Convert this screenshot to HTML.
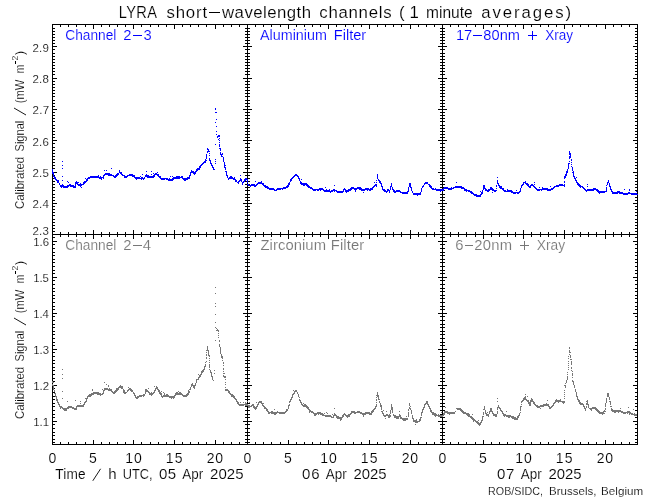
<!DOCTYPE html>
<html><head><meta charset="utf-8"><style>
html,body{margin:0;padding:0;background:#fff;overflow:hidden;}
svg{display:block;will-change:transform;}
text{font-family:"Liberation Sans",sans-serif;stroke:#fff;stroke-width:0.15px;}
</style></head><body>
<svg width="650" height="500" viewBox="0 0 650 500" shape-rendering="crispEdges">
<rect width="650" height="500" fill="#fff"/>
<rect x="52" y="24" width="586" height="1" fill="#000"/>
<rect x="52" y="234" width="586" height="1" fill="#000"/>
<rect x="52" y="444" width="586" height="1" fill="#000"/>
<rect x="52" y="24" width="1" height="421" fill="#000"/>
<rect x="247" y="24" width="1" height="421" fill="#000"/>
<rect x="442" y="24" width="1" height="421" fill="#000"/>
<rect x="637" y="24" width="1" height="421" fill="#000"/>
<rect x="60" y="24" width="1" height="3" fill="#000"/>
<rect x="60" y="232" width="1" height="3" fill="#000"/>
<rect x="60" y="234" width="1" height="3" fill="#000"/>
<rect x="60" y="442" width="1" height="3" fill="#000"/>
<rect x="68" y="24" width="1" height="3" fill="#000"/>
<rect x="68" y="232" width="1" height="3" fill="#000"/>
<rect x="68" y="234" width="1" height="3" fill="#000"/>
<rect x="68" y="442" width="1" height="3" fill="#000"/>
<rect x="76" y="24" width="1" height="3" fill="#000"/>
<rect x="76" y="232" width="1" height="3" fill="#000"/>
<rect x="76" y="234" width="1" height="3" fill="#000"/>
<rect x="76" y="442" width="1" height="3" fill="#000"/>
<rect x="85" y="24" width="1" height="3" fill="#000"/>
<rect x="85" y="232" width="1" height="3" fill="#000"/>
<rect x="85" y="234" width="1" height="3" fill="#000"/>
<rect x="85" y="442" width="1" height="3" fill="#000"/>
<rect x="93" y="24" width="1" height="5" fill="#000"/>
<rect x="93" y="230" width="1" height="5" fill="#000"/>
<rect x="93" y="234" width="1" height="5" fill="#000"/>
<rect x="93" y="440" width="1" height="5" fill="#000"/>
<rect x="101" y="24" width="1" height="3" fill="#000"/>
<rect x="101" y="232" width="1" height="3" fill="#000"/>
<rect x="101" y="234" width="1" height="3" fill="#000"/>
<rect x="101" y="442" width="1" height="3" fill="#000"/>
<rect x="109" y="24" width="1" height="3" fill="#000"/>
<rect x="109" y="232" width="1" height="3" fill="#000"/>
<rect x="109" y="234" width="1" height="3" fill="#000"/>
<rect x="109" y="442" width="1" height="3" fill="#000"/>
<rect x="117" y="24" width="1" height="3" fill="#000"/>
<rect x="117" y="232" width="1" height="3" fill="#000"/>
<rect x="117" y="234" width="1" height="3" fill="#000"/>
<rect x="117" y="442" width="1" height="3" fill="#000"/>
<rect x="125" y="24" width="1" height="3" fill="#000"/>
<rect x="125" y="232" width="1" height="3" fill="#000"/>
<rect x="125" y="234" width="1" height="3" fill="#000"/>
<rect x="125" y="442" width="1" height="3" fill="#000"/>
<rect x="133" y="24" width="1" height="5" fill="#000"/>
<rect x="133" y="230" width="1" height="5" fill="#000"/>
<rect x="133" y="234" width="1" height="5" fill="#000"/>
<rect x="133" y="440" width="1" height="5" fill="#000"/>
<rect x="141" y="24" width="1" height="3" fill="#000"/>
<rect x="141" y="232" width="1" height="3" fill="#000"/>
<rect x="141" y="234" width="1" height="3" fill="#000"/>
<rect x="141" y="442" width="1" height="3" fill="#000"/>
<rect x="150" y="24" width="1" height="3" fill="#000"/>
<rect x="150" y="232" width="1" height="3" fill="#000"/>
<rect x="150" y="234" width="1" height="3" fill="#000"/>
<rect x="150" y="442" width="1" height="3" fill="#000"/>
<rect x="158" y="24" width="1" height="3" fill="#000"/>
<rect x="158" y="232" width="1" height="3" fill="#000"/>
<rect x="158" y="234" width="1" height="3" fill="#000"/>
<rect x="158" y="442" width="1" height="3" fill="#000"/>
<rect x="166" y="24" width="1" height="3" fill="#000"/>
<rect x="166" y="232" width="1" height="3" fill="#000"/>
<rect x="166" y="234" width="1" height="3" fill="#000"/>
<rect x="166" y="442" width="1" height="3" fill="#000"/>
<rect x="174" y="24" width="1" height="5" fill="#000"/>
<rect x="174" y="230" width="1" height="5" fill="#000"/>
<rect x="174" y="234" width="1" height="5" fill="#000"/>
<rect x="174" y="440" width="1" height="5" fill="#000"/>
<rect x="182" y="24" width="1" height="3" fill="#000"/>
<rect x="182" y="232" width="1" height="3" fill="#000"/>
<rect x="182" y="234" width="1" height="3" fill="#000"/>
<rect x="182" y="442" width="1" height="3" fill="#000"/>
<rect x="190" y="24" width="1" height="3" fill="#000"/>
<rect x="190" y="232" width="1" height="3" fill="#000"/>
<rect x="190" y="234" width="1" height="3" fill="#000"/>
<rect x="190" y="442" width="1" height="3" fill="#000"/>
<rect x="198" y="24" width="1" height="3" fill="#000"/>
<rect x="198" y="232" width="1" height="3" fill="#000"/>
<rect x="198" y="234" width="1" height="3" fill="#000"/>
<rect x="198" y="442" width="1" height="3" fill="#000"/>
<rect x="206" y="24" width="1" height="3" fill="#000"/>
<rect x="206" y="232" width="1" height="3" fill="#000"/>
<rect x="206" y="234" width="1" height="3" fill="#000"/>
<rect x="206" y="442" width="1" height="3" fill="#000"/>
<rect x="215" y="24" width="1" height="5" fill="#000"/>
<rect x="215" y="230" width="1" height="5" fill="#000"/>
<rect x="215" y="234" width="1" height="5" fill="#000"/>
<rect x="215" y="440" width="1" height="5" fill="#000"/>
<rect x="223" y="24" width="1" height="3" fill="#000"/>
<rect x="223" y="232" width="1" height="3" fill="#000"/>
<rect x="223" y="234" width="1" height="3" fill="#000"/>
<rect x="223" y="442" width="1" height="3" fill="#000"/>
<rect x="231" y="24" width="1" height="3" fill="#000"/>
<rect x="231" y="232" width="1" height="3" fill="#000"/>
<rect x="231" y="234" width="1" height="3" fill="#000"/>
<rect x="231" y="442" width="1" height="3" fill="#000"/>
<rect x="239" y="24" width="1" height="3" fill="#000"/>
<rect x="239" y="232" width="1" height="3" fill="#000"/>
<rect x="239" y="234" width="1" height="3" fill="#000"/>
<rect x="239" y="442" width="1" height="3" fill="#000"/>
<rect x="255" y="24" width="1" height="3" fill="#000"/>
<rect x="255" y="232" width="1" height="3" fill="#000"/>
<rect x="255" y="234" width="1" height="3" fill="#000"/>
<rect x="255" y="442" width="1" height="3" fill="#000"/>
<rect x="263" y="24" width="1" height="3" fill="#000"/>
<rect x="263" y="232" width="1" height="3" fill="#000"/>
<rect x="263" y="234" width="1" height="3" fill="#000"/>
<rect x="263" y="442" width="1" height="3" fill="#000"/>
<rect x="271" y="24" width="1" height="3" fill="#000"/>
<rect x="271" y="232" width="1" height="3" fill="#000"/>
<rect x="271" y="234" width="1" height="3" fill="#000"/>
<rect x="271" y="442" width="1" height="3" fill="#000"/>
<rect x="280" y="24" width="1" height="3" fill="#000"/>
<rect x="280" y="232" width="1" height="3" fill="#000"/>
<rect x="280" y="234" width="1" height="3" fill="#000"/>
<rect x="280" y="442" width="1" height="3" fill="#000"/>
<rect x="288" y="24" width="1" height="5" fill="#000"/>
<rect x="288" y="230" width="1" height="5" fill="#000"/>
<rect x="288" y="234" width="1" height="5" fill="#000"/>
<rect x="288" y="440" width="1" height="5" fill="#000"/>
<rect x="296" y="24" width="1" height="3" fill="#000"/>
<rect x="296" y="232" width="1" height="3" fill="#000"/>
<rect x="296" y="234" width="1" height="3" fill="#000"/>
<rect x="296" y="442" width="1" height="3" fill="#000"/>
<rect x="304" y="24" width="1" height="3" fill="#000"/>
<rect x="304" y="232" width="1" height="3" fill="#000"/>
<rect x="304" y="234" width="1" height="3" fill="#000"/>
<rect x="304" y="442" width="1" height="3" fill="#000"/>
<rect x="312" y="24" width="1" height="3" fill="#000"/>
<rect x="312" y="232" width="1" height="3" fill="#000"/>
<rect x="312" y="234" width="1" height="3" fill="#000"/>
<rect x="312" y="442" width="1" height="3" fill="#000"/>
<rect x="320" y="24" width="1" height="3" fill="#000"/>
<rect x="320" y="232" width="1" height="3" fill="#000"/>
<rect x="320" y="234" width="1" height="3" fill="#000"/>
<rect x="320" y="442" width="1" height="3" fill="#000"/>
<rect x="328" y="24" width="1" height="5" fill="#000"/>
<rect x="328" y="230" width="1" height="5" fill="#000"/>
<rect x="328" y="234" width="1" height="5" fill="#000"/>
<rect x="328" y="440" width="1" height="5" fill="#000"/>
<rect x="336" y="24" width="1" height="3" fill="#000"/>
<rect x="336" y="232" width="1" height="3" fill="#000"/>
<rect x="336" y="234" width="1" height="3" fill="#000"/>
<rect x="336" y="442" width="1" height="3" fill="#000"/>
<rect x="345" y="24" width="1" height="3" fill="#000"/>
<rect x="345" y="232" width="1" height="3" fill="#000"/>
<rect x="345" y="234" width="1" height="3" fill="#000"/>
<rect x="345" y="442" width="1" height="3" fill="#000"/>
<rect x="353" y="24" width="1" height="3" fill="#000"/>
<rect x="353" y="232" width="1" height="3" fill="#000"/>
<rect x="353" y="234" width="1" height="3" fill="#000"/>
<rect x="353" y="442" width="1" height="3" fill="#000"/>
<rect x="361" y="24" width="1" height="3" fill="#000"/>
<rect x="361" y="232" width="1" height="3" fill="#000"/>
<rect x="361" y="234" width="1" height="3" fill="#000"/>
<rect x="361" y="442" width="1" height="3" fill="#000"/>
<rect x="369" y="24" width="1" height="5" fill="#000"/>
<rect x="369" y="230" width="1" height="5" fill="#000"/>
<rect x="369" y="234" width="1" height="5" fill="#000"/>
<rect x="369" y="440" width="1" height="5" fill="#000"/>
<rect x="377" y="24" width="1" height="3" fill="#000"/>
<rect x="377" y="232" width="1" height="3" fill="#000"/>
<rect x="377" y="234" width="1" height="3" fill="#000"/>
<rect x="377" y="442" width="1" height="3" fill="#000"/>
<rect x="385" y="24" width="1" height="3" fill="#000"/>
<rect x="385" y="232" width="1" height="3" fill="#000"/>
<rect x="385" y="234" width="1" height="3" fill="#000"/>
<rect x="385" y="442" width="1" height="3" fill="#000"/>
<rect x="393" y="24" width="1" height="3" fill="#000"/>
<rect x="393" y="232" width="1" height="3" fill="#000"/>
<rect x="393" y="234" width="1" height="3" fill="#000"/>
<rect x="393" y="442" width="1" height="3" fill="#000"/>
<rect x="401" y="24" width="1" height="3" fill="#000"/>
<rect x="401" y="232" width="1" height="3" fill="#000"/>
<rect x="401" y="234" width="1" height="3" fill="#000"/>
<rect x="401" y="442" width="1" height="3" fill="#000"/>
<rect x="410" y="24" width="1" height="5" fill="#000"/>
<rect x="410" y="230" width="1" height="5" fill="#000"/>
<rect x="410" y="234" width="1" height="5" fill="#000"/>
<rect x="410" y="440" width="1" height="5" fill="#000"/>
<rect x="418" y="24" width="1" height="3" fill="#000"/>
<rect x="418" y="232" width="1" height="3" fill="#000"/>
<rect x="418" y="234" width="1" height="3" fill="#000"/>
<rect x="418" y="442" width="1" height="3" fill="#000"/>
<rect x="426" y="24" width="1" height="3" fill="#000"/>
<rect x="426" y="232" width="1" height="3" fill="#000"/>
<rect x="426" y="234" width="1" height="3" fill="#000"/>
<rect x="426" y="442" width="1" height="3" fill="#000"/>
<rect x="434" y="24" width="1" height="3" fill="#000"/>
<rect x="434" y="232" width="1" height="3" fill="#000"/>
<rect x="434" y="234" width="1" height="3" fill="#000"/>
<rect x="434" y="442" width="1" height="3" fill="#000"/>
<rect x="450" y="24" width="1" height="3" fill="#000"/>
<rect x="450" y="232" width="1" height="3" fill="#000"/>
<rect x="450" y="234" width="1" height="3" fill="#000"/>
<rect x="450" y="442" width="1" height="3" fill="#000"/>
<rect x="458" y="24" width="1" height="3" fill="#000"/>
<rect x="458" y="232" width="1" height="3" fill="#000"/>
<rect x="458" y="234" width="1" height="3" fill="#000"/>
<rect x="458" y="442" width="1" height="3" fill="#000"/>
<rect x="466" y="24" width="1" height="3" fill="#000"/>
<rect x="466" y="232" width="1" height="3" fill="#000"/>
<rect x="466" y="234" width="1" height="3" fill="#000"/>
<rect x="466" y="442" width="1" height="3" fill="#000"/>
<rect x="475" y="24" width="1" height="3" fill="#000"/>
<rect x="475" y="232" width="1" height="3" fill="#000"/>
<rect x="475" y="234" width="1" height="3" fill="#000"/>
<rect x="475" y="442" width="1" height="3" fill="#000"/>
<rect x="483" y="24" width="1" height="5" fill="#000"/>
<rect x="483" y="230" width="1" height="5" fill="#000"/>
<rect x="483" y="234" width="1" height="5" fill="#000"/>
<rect x="483" y="440" width="1" height="5" fill="#000"/>
<rect x="491" y="24" width="1" height="3" fill="#000"/>
<rect x="491" y="232" width="1" height="3" fill="#000"/>
<rect x="491" y="234" width="1" height="3" fill="#000"/>
<rect x="491" y="442" width="1" height="3" fill="#000"/>
<rect x="499" y="24" width="1" height="3" fill="#000"/>
<rect x="499" y="232" width="1" height="3" fill="#000"/>
<rect x="499" y="234" width="1" height="3" fill="#000"/>
<rect x="499" y="442" width="1" height="3" fill="#000"/>
<rect x="507" y="24" width="1" height="3" fill="#000"/>
<rect x="507" y="232" width="1" height="3" fill="#000"/>
<rect x="507" y="234" width="1" height="3" fill="#000"/>
<rect x="507" y="442" width="1" height="3" fill="#000"/>
<rect x="515" y="24" width="1" height="3" fill="#000"/>
<rect x="515" y="232" width="1" height="3" fill="#000"/>
<rect x="515" y="234" width="1" height="3" fill="#000"/>
<rect x="515" y="442" width="1" height="3" fill="#000"/>
<rect x="523" y="24" width="1" height="5" fill="#000"/>
<rect x="523" y="230" width="1" height="5" fill="#000"/>
<rect x="523" y="234" width="1" height="5" fill="#000"/>
<rect x="523" y="440" width="1" height="5" fill="#000"/>
<rect x="531" y="24" width="1" height="3" fill="#000"/>
<rect x="531" y="232" width="1" height="3" fill="#000"/>
<rect x="531" y="234" width="1" height="3" fill="#000"/>
<rect x="531" y="442" width="1" height="3" fill="#000"/>
<rect x="540" y="24" width="1" height="3" fill="#000"/>
<rect x="540" y="232" width="1" height="3" fill="#000"/>
<rect x="540" y="234" width="1" height="3" fill="#000"/>
<rect x="540" y="442" width="1" height="3" fill="#000"/>
<rect x="548" y="24" width="1" height="3" fill="#000"/>
<rect x="548" y="232" width="1" height="3" fill="#000"/>
<rect x="548" y="234" width="1" height="3" fill="#000"/>
<rect x="548" y="442" width="1" height="3" fill="#000"/>
<rect x="556" y="24" width="1" height="3" fill="#000"/>
<rect x="556" y="232" width="1" height="3" fill="#000"/>
<rect x="556" y="234" width="1" height="3" fill="#000"/>
<rect x="556" y="442" width="1" height="3" fill="#000"/>
<rect x="564" y="24" width="1" height="5" fill="#000"/>
<rect x="564" y="230" width="1" height="5" fill="#000"/>
<rect x="564" y="234" width="1" height="5" fill="#000"/>
<rect x="564" y="440" width="1" height="5" fill="#000"/>
<rect x="572" y="24" width="1" height="3" fill="#000"/>
<rect x="572" y="232" width="1" height="3" fill="#000"/>
<rect x="572" y="234" width="1" height="3" fill="#000"/>
<rect x="572" y="442" width="1" height="3" fill="#000"/>
<rect x="580" y="24" width="1" height="3" fill="#000"/>
<rect x="580" y="232" width="1" height="3" fill="#000"/>
<rect x="580" y="234" width="1" height="3" fill="#000"/>
<rect x="580" y="442" width="1" height="3" fill="#000"/>
<rect x="588" y="24" width="1" height="3" fill="#000"/>
<rect x="588" y="232" width="1" height="3" fill="#000"/>
<rect x="588" y="234" width="1" height="3" fill="#000"/>
<rect x="588" y="442" width="1" height="3" fill="#000"/>
<rect x="596" y="24" width="1" height="3" fill="#000"/>
<rect x="596" y="232" width="1" height="3" fill="#000"/>
<rect x="596" y="234" width="1" height="3" fill="#000"/>
<rect x="596" y="442" width="1" height="3" fill="#000"/>
<rect x="605" y="24" width="1" height="5" fill="#000"/>
<rect x="605" y="230" width="1" height="5" fill="#000"/>
<rect x="605" y="234" width="1" height="5" fill="#000"/>
<rect x="605" y="440" width="1" height="5" fill="#000"/>
<rect x="613" y="24" width="1" height="3" fill="#000"/>
<rect x="613" y="232" width="1" height="3" fill="#000"/>
<rect x="613" y="234" width="1" height="3" fill="#000"/>
<rect x="613" y="442" width="1" height="3" fill="#000"/>
<rect x="621" y="24" width="1" height="3" fill="#000"/>
<rect x="621" y="232" width="1" height="3" fill="#000"/>
<rect x="621" y="234" width="1" height="3" fill="#000"/>
<rect x="621" y="442" width="1" height="3" fill="#000"/>
<rect x="629" y="24" width="1" height="3" fill="#000"/>
<rect x="629" y="232" width="1" height="3" fill="#000"/>
<rect x="629" y="234" width="1" height="3" fill="#000"/>
<rect x="629" y="442" width="1" height="3" fill="#000"/>
<rect x="52" y="234" width="5" height="1" fill="#000"/>
<rect x="247" y="234" width="5" height="1" fill="#000"/>
<rect x="442" y="234" width="5" height="1" fill="#000"/>
<rect x="243" y="234" width="5" height="1" fill="#000"/>
<rect x="438" y="234" width="5" height="1" fill="#000"/>
<rect x="633" y="234" width="5" height="1" fill="#000"/>
<rect x="52" y="231" width="3" height="1" fill="#000"/>
<rect x="247" y="231" width="3" height="1" fill="#000"/>
<rect x="442" y="231" width="3" height="1" fill="#000"/>
<rect x="245" y="231" width="3" height="1" fill="#000"/>
<rect x="440" y="231" width="3" height="1" fill="#000"/>
<rect x="635" y="231" width="3" height="1" fill="#000"/>
<rect x="52" y="228" width="3" height="1" fill="#000"/>
<rect x="247" y="228" width="3" height="1" fill="#000"/>
<rect x="442" y="228" width="3" height="1" fill="#000"/>
<rect x="245" y="228" width="3" height="1" fill="#000"/>
<rect x="440" y="228" width="3" height="1" fill="#000"/>
<rect x="635" y="228" width="3" height="1" fill="#000"/>
<rect x="52" y="225" width="3" height="1" fill="#000"/>
<rect x="247" y="225" width="3" height="1" fill="#000"/>
<rect x="442" y="225" width="3" height="1" fill="#000"/>
<rect x="245" y="225" width="3" height="1" fill="#000"/>
<rect x="440" y="225" width="3" height="1" fill="#000"/>
<rect x="635" y="225" width="3" height="1" fill="#000"/>
<rect x="52" y="222" width="3" height="1" fill="#000"/>
<rect x="247" y="222" width="3" height="1" fill="#000"/>
<rect x="442" y="222" width="3" height="1" fill="#000"/>
<rect x="245" y="222" width="3" height="1" fill="#000"/>
<rect x="440" y="222" width="3" height="1" fill="#000"/>
<rect x="635" y="222" width="3" height="1" fill="#000"/>
<rect x="52" y="219" width="3" height="1" fill="#000"/>
<rect x="247" y="219" width="3" height="1" fill="#000"/>
<rect x="442" y="219" width="3" height="1" fill="#000"/>
<rect x="245" y="219" width="3" height="1" fill="#000"/>
<rect x="440" y="219" width="3" height="1" fill="#000"/>
<rect x="635" y="219" width="3" height="1" fill="#000"/>
<rect x="52" y="215" width="3" height="1" fill="#000"/>
<rect x="247" y="215" width="3" height="1" fill="#000"/>
<rect x="442" y="215" width="3" height="1" fill="#000"/>
<rect x="245" y="215" width="3" height="1" fill="#000"/>
<rect x="440" y="215" width="3" height="1" fill="#000"/>
<rect x="635" y="215" width="3" height="1" fill="#000"/>
<rect x="52" y="212" width="3" height="1" fill="#000"/>
<rect x="247" y="212" width="3" height="1" fill="#000"/>
<rect x="442" y="212" width="3" height="1" fill="#000"/>
<rect x="245" y="212" width="3" height="1" fill="#000"/>
<rect x="440" y="212" width="3" height="1" fill="#000"/>
<rect x="635" y="212" width="3" height="1" fill="#000"/>
<rect x="52" y="209" width="3" height="1" fill="#000"/>
<rect x="247" y="209" width="3" height="1" fill="#000"/>
<rect x="442" y="209" width="3" height="1" fill="#000"/>
<rect x="245" y="209" width="3" height="1" fill="#000"/>
<rect x="440" y="209" width="3" height="1" fill="#000"/>
<rect x="635" y="209" width="3" height="1" fill="#000"/>
<rect x="52" y="206" width="3" height="1" fill="#000"/>
<rect x="247" y="206" width="3" height="1" fill="#000"/>
<rect x="442" y="206" width="3" height="1" fill="#000"/>
<rect x="245" y="206" width="3" height="1" fill="#000"/>
<rect x="440" y="206" width="3" height="1" fill="#000"/>
<rect x="635" y="206" width="3" height="1" fill="#000"/>
<rect x="52" y="203" width="5" height="1" fill="#000"/>
<rect x="247" y="203" width="5" height="1" fill="#000"/>
<rect x="442" y="203" width="5" height="1" fill="#000"/>
<rect x="243" y="203" width="5" height="1" fill="#000"/>
<rect x="438" y="203" width="5" height="1" fill="#000"/>
<rect x="633" y="203" width="5" height="1" fill="#000"/>
<rect x="52" y="200" width="3" height="1" fill="#000"/>
<rect x="247" y="200" width="3" height="1" fill="#000"/>
<rect x="442" y="200" width="3" height="1" fill="#000"/>
<rect x="245" y="200" width="3" height="1" fill="#000"/>
<rect x="440" y="200" width="3" height="1" fill="#000"/>
<rect x="635" y="200" width="3" height="1" fill="#000"/>
<rect x="52" y="197" width="3" height="1" fill="#000"/>
<rect x="247" y="197" width="3" height="1" fill="#000"/>
<rect x="442" y="197" width="3" height="1" fill="#000"/>
<rect x="245" y="197" width="3" height="1" fill="#000"/>
<rect x="440" y="197" width="3" height="1" fill="#000"/>
<rect x="635" y="197" width="3" height="1" fill="#000"/>
<rect x="52" y="194" width="3" height="1" fill="#000"/>
<rect x="247" y="194" width="3" height="1" fill="#000"/>
<rect x="442" y="194" width="3" height="1" fill="#000"/>
<rect x="245" y="194" width="3" height="1" fill="#000"/>
<rect x="440" y="194" width="3" height="1" fill="#000"/>
<rect x="635" y="194" width="3" height="1" fill="#000"/>
<rect x="52" y="190" width="3" height="1" fill="#000"/>
<rect x="247" y="190" width="3" height="1" fill="#000"/>
<rect x="442" y="190" width="3" height="1" fill="#000"/>
<rect x="245" y="190" width="3" height="1" fill="#000"/>
<rect x="440" y="190" width="3" height="1" fill="#000"/>
<rect x="635" y="190" width="3" height="1" fill="#000"/>
<rect x="52" y="187" width="3" height="1" fill="#000"/>
<rect x="247" y="187" width="3" height="1" fill="#000"/>
<rect x="442" y="187" width="3" height="1" fill="#000"/>
<rect x="245" y="187" width="3" height="1" fill="#000"/>
<rect x="440" y="187" width="3" height="1" fill="#000"/>
<rect x="635" y="187" width="3" height="1" fill="#000"/>
<rect x="52" y="184" width="3" height="1" fill="#000"/>
<rect x="247" y="184" width="3" height="1" fill="#000"/>
<rect x="442" y="184" width="3" height="1" fill="#000"/>
<rect x="245" y="184" width="3" height="1" fill="#000"/>
<rect x="440" y="184" width="3" height="1" fill="#000"/>
<rect x="635" y="184" width="3" height="1" fill="#000"/>
<rect x="52" y="181" width="3" height="1" fill="#000"/>
<rect x="247" y="181" width="3" height="1" fill="#000"/>
<rect x="442" y="181" width="3" height="1" fill="#000"/>
<rect x="245" y="181" width="3" height="1" fill="#000"/>
<rect x="440" y="181" width="3" height="1" fill="#000"/>
<rect x="635" y="181" width="3" height="1" fill="#000"/>
<rect x="52" y="178" width="3" height="1" fill="#000"/>
<rect x="247" y="178" width="3" height="1" fill="#000"/>
<rect x="442" y="178" width="3" height="1" fill="#000"/>
<rect x="245" y="178" width="3" height="1" fill="#000"/>
<rect x="440" y="178" width="3" height="1" fill="#000"/>
<rect x="635" y="178" width="3" height="1" fill="#000"/>
<rect x="52" y="175" width="3" height="1" fill="#000"/>
<rect x="247" y="175" width="3" height="1" fill="#000"/>
<rect x="442" y="175" width="3" height="1" fill="#000"/>
<rect x="245" y="175" width="3" height="1" fill="#000"/>
<rect x="440" y="175" width="3" height="1" fill="#000"/>
<rect x="635" y="175" width="3" height="1" fill="#000"/>
<rect x="52" y="172" width="5" height="1" fill="#000"/>
<rect x="247" y="172" width="5" height="1" fill="#000"/>
<rect x="442" y="172" width="5" height="1" fill="#000"/>
<rect x="243" y="172" width="5" height="1" fill="#000"/>
<rect x="438" y="172" width="5" height="1" fill="#000"/>
<rect x="633" y="172" width="5" height="1" fill="#000"/>
<rect x="52" y="168" width="3" height="1" fill="#000"/>
<rect x="247" y="168" width="3" height="1" fill="#000"/>
<rect x="442" y="168" width="3" height="1" fill="#000"/>
<rect x="245" y="168" width="3" height="1" fill="#000"/>
<rect x="440" y="168" width="3" height="1" fill="#000"/>
<rect x="635" y="168" width="3" height="1" fill="#000"/>
<rect x="52" y="165" width="3" height="1" fill="#000"/>
<rect x="247" y="165" width="3" height="1" fill="#000"/>
<rect x="442" y="165" width="3" height="1" fill="#000"/>
<rect x="245" y="165" width="3" height="1" fill="#000"/>
<rect x="440" y="165" width="3" height="1" fill="#000"/>
<rect x="635" y="165" width="3" height="1" fill="#000"/>
<rect x="52" y="162" width="3" height="1" fill="#000"/>
<rect x="247" y="162" width="3" height="1" fill="#000"/>
<rect x="442" y="162" width="3" height="1" fill="#000"/>
<rect x="245" y="162" width="3" height="1" fill="#000"/>
<rect x="440" y="162" width="3" height="1" fill="#000"/>
<rect x="635" y="162" width="3" height="1" fill="#000"/>
<rect x="52" y="159" width="3" height="1" fill="#000"/>
<rect x="247" y="159" width="3" height="1" fill="#000"/>
<rect x="442" y="159" width="3" height="1" fill="#000"/>
<rect x="245" y="159" width="3" height="1" fill="#000"/>
<rect x="440" y="159" width="3" height="1" fill="#000"/>
<rect x="635" y="159" width="3" height="1" fill="#000"/>
<rect x="52" y="156" width="3" height="1" fill="#000"/>
<rect x="247" y="156" width="3" height="1" fill="#000"/>
<rect x="442" y="156" width="3" height="1" fill="#000"/>
<rect x="245" y="156" width="3" height="1" fill="#000"/>
<rect x="440" y="156" width="3" height="1" fill="#000"/>
<rect x="635" y="156" width="3" height="1" fill="#000"/>
<rect x="52" y="153" width="3" height="1" fill="#000"/>
<rect x="247" y="153" width="3" height="1" fill="#000"/>
<rect x="442" y="153" width="3" height="1" fill="#000"/>
<rect x="245" y="153" width="3" height="1" fill="#000"/>
<rect x="440" y="153" width="3" height="1" fill="#000"/>
<rect x="635" y="153" width="3" height="1" fill="#000"/>
<rect x="52" y="150" width="3" height="1" fill="#000"/>
<rect x="247" y="150" width="3" height="1" fill="#000"/>
<rect x="442" y="150" width="3" height="1" fill="#000"/>
<rect x="245" y="150" width="3" height="1" fill="#000"/>
<rect x="440" y="150" width="3" height="1" fill="#000"/>
<rect x="635" y="150" width="3" height="1" fill="#000"/>
<rect x="52" y="147" width="3" height="1" fill="#000"/>
<rect x="247" y="147" width="3" height="1" fill="#000"/>
<rect x="442" y="147" width="3" height="1" fill="#000"/>
<rect x="245" y="147" width="3" height="1" fill="#000"/>
<rect x="440" y="147" width="3" height="1" fill="#000"/>
<rect x="635" y="147" width="3" height="1" fill="#000"/>
<rect x="52" y="143" width="3" height="1" fill="#000"/>
<rect x="247" y="143" width="3" height="1" fill="#000"/>
<rect x="442" y="143" width="3" height="1" fill="#000"/>
<rect x="245" y="143" width="3" height="1" fill="#000"/>
<rect x="440" y="143" width="3" height="1" fill="#000"/>
<rect x="635" y="143" width="3" height="1" fill="#000"/>
<rect x="52" y="140" width="5" height="1" fill="#000"/>
<rect x="247" y="140" width="5" height="1" fill="#000"/>
<rect x="442" y="140" width="5" height="1" fill="#000"/>
<rect x="243" y="140" width="5" height="1" fill="#000"/>
<rect x="438" y="140" width="5" height="1" fill="#000"/>
<rect x="633" y="140" width="5" height="1" fill="#000"/>
<rect x="52" y="137" width="3" height="1" fill="#000"/>
<rect x="247" y="137" width="3" height="1" fill="#000"/>
<rect x="442" y="137" width="3" height="1" fill="#000"/>
<rect x="245" y="137" width="3" height="1" fill="#000"/>
<rect x="440" y="137" width="3" height="1" fill="#000"/>
<rect x="635" y="137" width="3" height="1" fill="#000"/>
<rect x="52" y="134" width="3" height="1" fill="#000"/>
<rect x="247" y="134" width="3" height="1" fill="#000"/>
<rect x="442" y="134" width="3" height="1" fill="#000"/>
<rect x="245" y="134" width="3" height="1" fill="#000"/>
<rect x="440" y="134" width="3" height="1" fill="#000"/>
<rect x="635" y="134" width="3" height="1" fill="#000"/>
<rect x="52" y="131" width="3" height="1" fill="#000"/>
<rect x="247" y="131" width="3" height="1" fill="#000"/>
<rect x="442" y="131" width="3" height="1" fill="#000"/>
<rect x="245" y="131" width="3" height="1" fill="#000"/>
<rect x="440" y="131" width="3" height="1" fill="#000"/>
<rect x="635" y="131" width="3" height="1" fill="#000"/>
<rect x="52" y="128" width="3" height="1" fill="#000"/>
<rect x="247" y="128" width="3" height="1" fill="#000"/>
<rect x="442" y="128" width="3" height="1" fill="#000"/>
<rect x="245" y="128" width="3" height="1" fill="#000"/>
<rect x="440" y="128" width="3" height="1" fill="#000"/>
<rect x="635" y="128" width="3" height="1" fill="#000"/>
<rect x="52" y="125" width="3" height="1" fill="#000"/>
<rect x="247" y="125" width="3" height="1" fill="#000"/>
<rect x="442" y="125" width="3" height="1" fill="#000"/>
<rect x="245" y="125" width="3" height="1" fill="#000"/>
<rect x="440" y="125" width="3" height="1" fill="#000"/>
<rect x="635" y="125" width="3" height="1" fill="#000"/>
<rect x="52" y="121" width="3" height="1" fill="#000"/>
<rect x="247" y="121" width="3" height="1" fill="#000"/>
<rect x="442" y="121" width="3" height="1" fill="#000"/>
<rect x="245" y="121" width="3" height="1" fill="#000"/>
<rect x="440" y="121" width="3" height="1" fill="#000"/>
<rect x="635" y="121" width="3" height="1" fill="#000"/>
<rect x="52" y="118" width="3" height="1" fill="#000"/>
<rect x="247" y="118" width="3" height="1" fill="#000"/>
<rect x="442" y="118" width="3" height="1" fill="#000"/>
<rect x="245" y="118" width="3" height="1" fill="#000"/>
<rect x="440" y="118" width="3" height="1" fill="#000"/>
<rect x="635" y="118" width="3" height="1" fill="#000"/>
<rect x="52" y="115" width="3" height="1" fill="#000"/>
<rect x="247" y="115" width="3" height="1" fill="#000"/>
<rect x="442" y="115" width="3" height="1" fill="#000"/>
<rect x="245" y="115" width="3" height="1" fill="#000"/>
<rect x="440" y="115" width="3" height="1" fill="#000"/>
<rect x="635" y="115" width="3" height="1" fill="#000"/>
<rect x="52" y="112" width="3" height="1" fill="#000"/>
<rect x="247" y="112" width="3" height="1" fill="#000"/>
<rect x="442" y="112" width="3" height="1" fill="#000"/>
<rect x="245" y="112" width="3" height="1" fill="#000"/>
<rect x="440" y="112" width="3" height="1" fill="#000"/>
<rect x="635" y="112" width="3" height="1" fill="#000"/>
<rect x="52" y="109" width="5" height="1" fill="#000"/>
<rect x="247" y="109" width="5" height="1" fill="#000"/>
<rect x="442" y="109" width="5" height="1" fill="#000"/>
<rect x="243" y="109" width="5" height="1" fill="#000"/>
<rect x="438" y="109" width="5" height="1" fill="#000"/>
<rect x="633" y="109" width="5" height="1" fill="#000"/>
<rect x="52" y="106" width="3" height="1" fill="#000"/>
<rect x="247" y="106" width="3" height="1" fill="#000"/>
<rect x="442" y="106" width="3" height="1" fill="#000"/>
<rect x="245" y="106" width="3" height="1" fill="#000"/>
<rect x="440" y="106" width="3" height="1" fill="#000"/>
<rect x="635" y="106" width="3" height="1" fill="#000"/>
<rect x="52" y="103" width="3" height="1" fill="#000"/>
<rect x="247" y="103" width="3" height="1" fill="#000"/>
<rect x="442" y="103" width="3" height="1" fill="#000"/>
<rect x="245" y="103" width="3" height="1" fill="#000"/>
<rect x="440" y="103" width="3" height="1" fill="#000"/>
<rect x="635" y="103" width="3" height="1" fill="#000"/>
<rect x="52" y="100" width="3" height="1" fill="#000"/>
<rect x="247" y="100" width="3" height="1" fill="#000"/>
<rect x="442" y="100" width="3" height="1" fill="#000"/>
<rect x="245" y="100" width="3" height="1" fill="#000"/>
<rect x="440" y="100" width="3" height="1" fill="#000"/>
<rect x="635" y="100" width="3" height="1" fill="#000"/>
<rect x="52" y="96" width="3" height="1" fill="#000"/>
<rect x="247" y="96" width="3" height="1" fill="#000"/>
<rect x="442" y="96" width="3" height="1" fill="#000"/>
<rect x="245" y="96" width="3" height="1" fill="#000"/>
<rect x="440" y="96" width="3" height="1" fill="#000"/>
<rect x="635" y="96" width="3" height="1" fill="#000"/>
<rect x="52" y="93" width="3" height="1" fill="#000"/>
<rect x="247" y="93" width="3" height="1" fill="#000"/>
<rect x="442" y="93" width="3" height="1" fill="#000"/>
<rect x="245" y="93" width="3" height="1" fill="#000"/>
<rect x="440" y="93" width="3" height="1" fill="#000"/>
<rect x="635" y="93" width="3" height="1" fill="#000"/>
<rect x="52" y="90" width="3" height="1" fill="#000"/>
<rect x="247" y="90" width="3" height="1" fill="#000"/>
<rect x="442" y="90" width="3" height="1" fill="#000"/>
<rect x="245" y="90" width="3" height="1" fill="#000"/>
<rect x="440" y="90" width="3" height="1" fill="#000"/>
<rect x="635" y="90" width="3" height="1" fill="#000"/>
<rect x="52" y="87" width="3" height="1" fill="#000"/>
<rect x="247" y="87" width="3" height="1" fill="#000"/>
<rect x="442" y="87" width="3" height="1" fill="#000"/>
<rect x="245" y="87" width="3" height="1" fill="#000"/>
<rect x="440" y="87" width="3" height="1" fill="#000"/>
<rect x="635" y="87" width="3" height="1" fill="#000"/>
<rect x="52" y="84" width="3" height="1" fill="#000"/>
<rect x="247" y="84" width="3" height="1" fill="#000"/>
<rect x="442" y="84" width="3" height="1" fill="#000"/>
<rect x="245" y="84" width="3" height="1" fill="#000"/>
<rect x="440" y="84" width="3" height="1" fill="#000"/>
<rect x="635" y="84" width="3" height="1" fill="#000"/>
<rect x="52" y="81" width="3" height="1" fill="#000"/>
<rect x="247" y="81" width="3" height="1" fill="#000"/>
<rect x="442" y="81" width="3" height="1" fill="#000"/>
<rect x="245" y="81" width="3" height="1" fill="#000"/>
<rect x="440" y="81" width="3" height="1" fill="#000"/>
<rect x="635" y="81" width="3" height="1" fill="#000"/>
<rect x="52" y="78" width="5" height="1" fill="#000"/>
<rect x="247" y="78" width="5" height="1" fill="#000"/>
<rect x="442" y="78" width="5" height="1" fill="#000"/>
<rect x="243" y="78" width="5" height="1" fill="#000"/>
<rect x="438" y="78" width="5" height="1" fill="#000"/>
<rect x="633" y="78" width="5" height="1" fill="#000"/>
<rect x="52" y="74" width="3" height="1" fill="#000"/>
<rect x="247" y="74" width="3" height="1" fill="#000"/>
<rect x="442" y="74" width="3" height="1" fill="#000"/>
<rect x="245" y="74" width="3" height="1" fill="#000"/>
<rect x="440" y="74" width="3" height="1" fill="#000"/>
<rect x="635" y="74" width="3" height="1" fill="#000"/>
<rect x="52" y="71" width="3" height="1" fill="#000"/>
<rect x="247" y="71" width="3" height="1" fill="#000"/>
<rect x="442" y="71" width="3" height="1" fill="#000"/>
<rect x="245" y="71" width="3" height="1" fill="#000"/>
<rect x="440" y="71" width="3" height="1" fill="#000"/>
<rect x="635" y="71" width="3" height="1" fill="#000"/>
<rect x="52" y="68" width="3" height="1" fill="#000"/>
<rect x="247" y="68" width="3" height="1" fill="#000"/>
<rect x="442" y="68" width="3" height="1" fill="#000"/>
<rect x="245" y="68" width="3" height="1" fill="#000"/>
<rect x="440" y="68" width="3" height="1" fill="#000"/>
<rect x="635" y="68" width="3" height="1" fill="#000"/>
<rect x="52" y="65" width="3" height="1" fill="#000"/>
<rect x="247" y="65" width="3" height="1" fill="#000"/>
<rect x="442" y="65" width="3" height="1" fill="#000"/>
<rect x="245" y="65" width="3" height="1" fill="#000"/>
<rect x="440" y="65" width="3" height="1" fill="#000"/>
<rect x="635" y="65" width="3" height="1" fill="#000"/>
<rect x="52" y="62" width="3" height="1" fill="#000"/>
<rect x="247" y="62" width="3" height="1" fill="#000"/>
<rect x="442" y="62" width="3" height="1" fill="#000"/>
<rect x="245" y="62" width="3" height="1" fill="#000"/>
<rect x="440" y="62" width="3" height="1" fill="#000"/>
<rect x="635" y="62" width="3" height="1" fill="#000"/>
<rect x="52" y="59" width="3" height="1" fill="#000"/>
<rect x="247" y="59" width="3" height="1" fill="#000"/>
<rect x="442" y="59" width="3" height="1" fill="#000"/>
<rect x="245" y="59" width="3" height="1" fill="#000"/>
<rect x="440" y="59" width="3" height="1" fill="#000"/>
<rect x="635" y="59" width="3" height="1" fill="#000"/>
<rect x="52" y="56" width="3" height="1" fill="#000"/>
<rect x="247" y="56" width="3" height="1" fill="#000"/>
<rect x="442" y="56" width="3" height="1" fill="#000"/>
<rect x="245" y="56" width="3" height="1" fill="#000"/>
<rect x="440" y="56" width="3" height="1" fill="#000"/>
<rect x="635" y="56" width="3" height="1" fill="#000"/>
<rect x="52" y="53" width="3" height="1" fill="#000"/>
<rect x="247" y="53" width="3" height="1" fill="#000"/>
<rect x="442" y="53" width="3" height="1" fill="#000"/>
<rect x="245" y="53" width="3" height="1" fill="#000"/>
<rect x="440" y="53" width="3" height="1" fill="#000"/>
<rect x="635" y="53" width="3" height="1" fill="#000"/>
<rect x="52" y="49" width="3" height="1" fill="#000"/>
<rect x="247" y="49" width="3" height="1" fill="#000"/>
<rect x="442" y="49" width="3" height="1" fill="#000"/>
<rect x="245" y="49" width="3" height="1" fill="#000"/>
<rect x="440" y="49" width="3" height="1" fill="#000"/>
<rect x="635" y="49" width="3" height="1" fill="#000"/>
<rect x="52" y="46" width="5" height="1" fill="#000"/>
<rect x="247" y="46" width="5" height="1" fill="#000"/>
<rect x="442" y="46" width="5" height="1" fill="#000"/>
<rect x="243" y="46" width="5" height="1" fill="#000"/>
<rect x="438" y="46" width="5" height="1" fill="#000"/>
<rect x="633" y="46" width="5" height="1" fill="#000"/>
<rect x="52" y="43" width="3" height="1" fill="#000"/>
<rect x="247" y="43" width="3" height="1" fill="#000"/>
<rect x="442" y="43" width="3" height="1" fill="#000"/>
<rect x="245" y="43" width="3" height="1" fill="#000"/>
<rect x="440" y="43" width="3" height="1" fill="#000"/>
<rect x="635" y="43" width="3" height="1" fill="#000"/>
<rect x="52" y="40" width="3" height="1" fill="#000"/>
<rect x="247" y="40" width="3" height="1" fill="#000"/>
<rect x="442" y="40" width="3" height="1" fill="#000"/>
<rect x="245" y="40" width="3" height="1" fill="#000"/>
<rect x="440" y="40" width="3" height="1" fill="#000"/>
<rect x="635" y="40" width="3" height="1" fill="#000"/>
<rect x="52" y="37" width="3" height="1" fill="#000"/>
<rect x="247" y="37" width="3" height="1" fill="#000"/>
<rect x="442" y="37" width="3" height="1" fill="#000"/>
<rect x="245" y="37" width="3" height="1" fill="#000"/>
<rect x="440" y="37" width="3" height="1" fill="#000"/>
<rect x="635" y="37" width="3" height="1" fill="#000"/>
<rect x="52" y="34" width="3" height="1" fill="#000"/>
<rect x="247" y="34" width="3" height="1" fill="#000"/>
<rect x="442" y="34" width="3" height="1" fill="#000"/>
<rect x="245" y="34" width="3" height="1" fill="#000"/>
<rect x="440" y="34" width="3" height="1" fill="#000"/>
<rect x="635" y="34" width="3" height="1" fill="#000"/>
<rect x="52" y="31" width="3" height="1" fill="#000"/>
<rect x="247" y="31" width="3" height="1" fill="#000"/>
<rect x="442" y="31" width="3" height="1" fill="#000"/>
<rect x="245" y="31" width="3" height="1" fill="#000"/>
<rect x="440" y="31" width="3" height="1" fill="#000"/>
<rect x="635" y="31" width="3" height="1" fill="#000"/>
<rect x="52" y="28" width="3" height="1" fill="#000"/>
<rect x="247" y="28" width="3" height="1" fill="#000"/>
<rect x="442" y="28" width="3" height="1" fill="#000"/>
<rect x="245" y="28" width="3" height="1" fill="#000"/>
<rect x="440" y="28" width="3" height="1" fill="#000"/>
<rect x="635" y="28" width="3" height="1" fill="#000"/>
<rect x="52" y="24" width="3" height="1" fill="#000"/>
<rect x="247" y="24" width="3" height="1" fill="#000"/>
<rect x="442" y="24" width="3" height="1" fill="#000"/>
<rect x="245" y="24" width="3" height="1" fill="#000"/>
<rect x="440" y="24" width="3" height="1" fill="#000"/>
<rect x="635" y="24" width="3" height="1" fill="#000"/>
<rect x="52" y="442" width="3" height="1" fill="#000"/>
<rect x="247" y="442" width="3" height="1" fill="#000"/>
<rect x="442" y="442" width="3" height="1" fill="#000"/>
<rect x="245" y="442" width="3" height="1" fill="#000"/>
<rect x="440" y="442" width="3" height="1" fill="#000"/>
<rect x="635" y="442" width="3" height="1" fill="#000"/>
<rect x="52" y="439" width="3" height="1" fill="#000"/>
<rect x="247" y="439" width="3" height="1" fill="#000"/>
<rect x="442" y="439" width="3" height="1" fill="#000"/>
<rect x="245" y="439" width="3" height="1" fill="#000"/>
<rect x="440" y="439" width="3" height="1" fill="#000"/>
<rect x="635" y="439" width="3" height="1" fill="#000"/>
<rect x="52" y="435" width="3" height="1" fill="#000"/>
<rect x="247" y="435" width="3" height="1" fill="#000"/>
<rect x="442" y="435" width="3" height="1" fill="#000"/>
<rect x="245" y="435" width="3" height="1" fill="#000"/>
<rect x="440" y="435" width="3" height="1" fill="#000"/>
<rect x="635" y="435" width="3" height="1" fill="#000"/>
<rect x="52" y="432" width="3" height="1" fill="#000"/>
<rect x="247" y="432" width="3" height="1" fill="#000"/>
<rect x="442" y="432" width="3" height="1" fill="#000"/>
<rect x="245" y="432" width="3" height="1" fill="#000"/>
<rect x="440" y="432" width="3" height="1" fill="#000"/>
<rect x="635" y="432" width="3" height="1" fill="#000"/>
<rect x="52" y="428" width="3" height="1" fill="#000"/>
<rect x="247" y="428" width="3" height="1" fill="#000"/>
<rect x="442" y="428" width="3" height="1" fill="#000"/>
<rect x="245" y="428" width="3" height="1" fill="#000"/>
<rect x="440" y="428" width="3" height="1" fill="#000"/>
<rect x="635" y="428" width="3" height="1" fill="#000"/>
<rect x="52" y="424" width="3" height="1" fill="#000"/>
<rect x="247" y="424" width="3" height="1" fill="#000"/>
<rect x="442" y="424" width="3" height="1" fill="#000"/>
<rect x="245" y="424" width="3" height="1" fill="#000"/>
<rect x="440" y="424" width="3" height="1" fill="#000"/>
<rect x="635" y="424" width="3" height="1" fill="#000"/>
<rect x="52" y="421" width="5" height="1" fill="#000"/>
<rect x="247" y="421" width="5" height="1" fill="#000"/>
<rect x="442" y="421" width="5" height="1" fill="#000"/>
<rect x="243" y="421" width="5" height="1" fill="#000"/>
<rect x="438" y="421" width="5" height="1" fill="#000"/>
<rect x="633" y="421" width="5" height="1" fill="#000"/>
<rect x="52" y="417" width="3" height="1" fill="#000"/>
<rect x="247" y="417" width="3" height="1" fill="#000"/>
<rect x="442" y="417" width="3" height="1" fill="#000"/>
<rect x="245" y="417" width="3" height="1" fill="#000"/>
<rect x="440" y="417" width="3" height="1" fill="#000"/>
<rect x="635" y="417" width="3" height="1" fill="#000"/>
<rect x="52" y="414" width="3" height="1" fill="#000"/>
<rect x="247" y="414" width="3" height="1" fill="#000"/>
<rect x="442" y="414" width="3" height="1" fill="#000"/>
<rect x="245" y="414" width="3" height="1" fill="#000"/>
<rect x="440" y="414" width="3" height="1" fill="#000"/>
<rect x="635" y="414" width="3" height="1" fill="#000"/>
<rect x="52" y="410" width="3" height="1" fill="#000"/>
<rect x="247" y="410" width="3" height="1" fill="#000"/>
<rect x="442" y="410" width="3" height="1" fill="#000"/>
<rect x="245" y="410" width="3" height="1" fill="#000"/>
<rect x="440" y="410" width="3" height="1" fill="#000"/>
<rect x="635" y="410" width="3" height="1" fill="#000"/>
<rect x="52" y="406" width="3" height="1" fill="#000"/>
<rect x="247" y="406" width="3" height="1" fill="#000"/>
<rect x="442" y="406" width="3" height="1" fill="#000"/>
<rect x="245" y="406" width="3" height="1" fill="#000"/>
<rect x="440" y="406" width="3" height="1" fill="#000"/>
<rect x="635" y="406" width="3" height="1" fill="#000"/>
<rect x="52" y="403" width="3" height="1" fill="#000"/>
<rect x="247" y="403" width="3" height="1" fill="#000"/>
<rect x="442" y="403" width="3" height="1" fill="#000"/>
<rect x="245" y="403" width="3" height="1" fill="#000"/>
<rect x="440" y="403" width="3" height="1" fill="#000"/>
<rect x="635" y="403" width="3" height="1" fill="#000"/>
<rect x="52" y="399" width="3" height="1" fill="#000"/>
<rect x="247" y="399" width="3" height="1" fill="#000"/>
<rect x="442" y="399" width="3" height="1" fill="#000"/>
<rect x="245" y="399" width="3" height="1" fill="#000"/>
<rect x="440" y="399" width="3" height="1" fill="#000"/>
<rect x="635" y="399" width="3" height="1" fill="#000"/>
<rect x="52" y="396" width="3" height="1" fill="#000"/>
<rect x="247" y="396" width="3" height="1" fill="#000"/>
<rect x="442" y="396" width="3" height="1" fill="#000"/>
<rect x="245" y="396" width="3" height="1" fill="#000"/>
<rect x="440" y="396" width="3" height="1" fill="#000"/>
<rect x="635" y="396" width="3" height="1" fill="#000"/>
<rect x="52" y="392" width="3" height="1" fill="#000"/>
<rect x="247" y="392" width="3" height="1" fill="#000"/>
<rect x="442" y="392" width="3" height="1" fill="#000"/>
<rect x="245" y="392" width="3" height="1" fill="#000"/>
<rect x="440" y="392" width="3" height="1" fill="#000"/>
<rect x="635" y="392" width="3" height="1" fill="#000"/>
<rect x="52" y="388" width="3" height="1" fill="#000"/>
<rect x="247" y="388" width="3" height="1" fill="#000"/>
<rect x="442" y="388" width="3" height="1" fill="#000"/>
<rect x="245" y="388" width="3" height="1" fill="#000"/>
<rect x="440" y="388" width="3" height="1" fill="#000"/>
<rect x="635" y="388" width="3" height="1" fill="#000"/>
<rect x="52" y="385" width="5" height="1" fill="#000"/>
<rect x="247" y="385" width="5" height="1" fill="#000"/>
<rect x="442" y="385" width="5" height="1" fill="#000"/>
<rect x="243" y="385" width="5" height="1" fill="#000"/>
<rect x="438" y="385" width="5" height="1" fill="#000"/>
<rect x="633" y="385" width="5" height="1" fill="#000"/>
<rect x="52" y="381" width="3" height="1" fill="#000"/>
<rect x="247" y="381" width="3" height="1" fill="#000"/>
<rect x="442" y="381" width="3" height="1" fill="#000"/>
<rect x="245" y="381" width="3" height="1" fill="#000"/>
<rect x="440" y="381" width="3" height="1" fill="#000"/>
<rect x="635" y="381" width="3" height="1" fill="#000"/>
<rect x="52" y="378" width="3" height="1" fill="#000"/>
<rect x="247" y="378" width="3" height="1" fill="#000"/>
<rect x="442" y="378" width="3" height="1" fill="#000"/>
<rect x="245" y="378" width="3" height="1" fill="#000"/>
<rect x="440" y="378" width="3" height="1" fill="#000"/>
<rect x="635" y="378" width="3" height="1" fill="#000"/>
<rect x="52" y="374" width="3" height="1" fill="#000"/>
<rect x="247" y="374" width="3" height="1" fill="#000"/>
<rect x="442" y="374" width="3" height="1" fill="#000"/>
<rect x="245" y="374" width="3" height="1" fill="#000"/>
<rect x="440" y="374" width="3" height="1" fill="#000"/>
<rect x="635" y="374" width="3" height="1" fill="#000"/>
<rect x="52" y="370" width="3" height="1" fill="#000"/>
<rect x="247" y="370" width="3" height="1" fill="#000"/>
<rect x="442" y="370" width="3" height="1" fill="#000"/>
<rect x="245" y="370" width="3" height="1" fill="#000"/>
<rect x="440" y="370" width="3" height="1" fill="#000"/>
<rect x="635" y="370" width="3" height="1" fill="#000"/>
<rect x="52" y="367" width="3" height="1" fill="#000"/>
<rect x="247" y="367" width="3" height="1" fill="#000"/>
<rect x="442" y="367" width="3" height="1" fill="#000"/>
<rect x="245" y="367" width="3" height="1" fill="#000"/>
<rect x="440" y="367" width="3" height="1" fill="#000"/>
<rect x="635" y="367" width="3" height="1" fill="#000"/>
<rect x="52" y="363" width="3" height="1" fill="#000"/>
<rect x="247" y="363" width="3" height="1" fill="#000"/>
<rect x="442" y="363" width="3" height="1" fill="#000"/>
<rect x="245" y="363" width="3" height="1" fill="#000"/>
<rect x="440" y="363" width="3" height="1" fill="#000"/>
<rect x="635" y="363" width="3" height="1" fill="#000"/>
<rect x="52" y="360" width="3" height="1" fill="#000"/>
<rect x="247" y="360" width="3" height="1" fill="#000"/>
<rect x="442" y="360" width="3" height="1" fill="#000"/>
<rect x="245" y="360" width="3" height="1" fill="#000"/>
<rect x="440" y="360" width="3" height="1" fill="#000"/>
<rect x="635" y="360" width="3" height="1" fill="#000"/>
<rect x="52" y="356" width="3" height="1" fill="#000"/>
<rect x="247" y="356" width="3" height="1" fill="#000"/>
<rect x="442" y="356" width="3" height="1" fill="#000"/>
<rect x="245" y="356" width="3" height="1" fill="#000"/>
<rect x="440" y="356" width="3" height="1" fill="#000"/>
<rect x="635" y="356" width="3" height="1" fill="#000"/>
<rect x="52" y="352" width="3" height="1" fill="#000"/>
<rect x="247" y="352" width="3" height="1" fill="#000"/>
<rect x="442" y="352" width="3" height="1" fill="#000"/>
<rect x="245" y="352" width="3" height="1" fill="#000"/>
<rect x="440" y="352" width="3" height="1" fill="#000"/>
<rect x="635" y="352" width="3" height="1" fill="#000"/>
<rect x="52" y="349" width="5" height="1" fill="#000"/>
<rect x="247" y="349" width="5" height="1" fill="#000"/>
<rect x="442" y="349" width="5" height="1" fill="#000"/>
<rect x="243" y="349" width="5" height="1" fill="#000"/>
<rect x="438" y="349" width="5" height="1" fill="#000"/>
<rect x="633" y="349" width="5" height="1" fill="#000"/>
<rect x="52" y="345" width="3" height="1" fill="#000"/>
<rect x="247" y="345" width="3" height="1" fill="#000"/>
<rect x="442" y="345" width="3" height="1" fill="#000"/>
<rect x="245" y="345" width="3" height="1" fill="#000"/>
<rect x="440" y="345" width="3" height="1" fill="#000"/>
<rect x="635" y="345" width="3" height="1" fill="#000"/>
<rect x="52" y="342" width="3" height="1" fill="#000"/>
<rect x="247" y="342" width="3" height="1" fill="#000"/>
<rect x="442" y="342" width="3" height="1" fill="#000"/>
<rect x="245" y="342" width="3" height="1" fill="#000"/>
<rect x="440" y="342" width="3" height="1" fill="#000"/>
<rect x="635" y="342" width="3" height="1" fill="#000"/>
<rect x="52" y="338" width="3" height="1" fill="#000"/>
<rect x="247" y="338" width="3" height="1" fill="#000"/>
<rect x="442" y="338" width="3" height="1" fill="#000"/>
<rect x="245" y="338" width="3" height="1" fill="#000"/>
<rect x="440" y="338" width="3" height="1" fill="#000"/>
<rect x="635" y="338" width="3" height="1" fill="#000"/>
<rect x="52" y="334" width="3" height="1" fill="#000"/>
<rect x="247" y="334" width="3" height="1" fill="#000"/>
<rect x="442" y="334" width="3" height="1" fill="#000"/>
<rect x="245" y="334" width="3" height="1" fill="#000"/>
<rect x="440" y="334" width="3" height="1" fill="#000"/>
<rect x="635" y="334" width="3" height="1" fill="#000"/>
<rect x="52" y="331" width="3" height="1" fill="#000"/>
<rect x="247" y="331" width="3" height="1" fill="#000"/>
<rect x="442" y="331" width="3" height="1" fill="#000"/>
<rect x="245" y="331" width="3" height="1" fill="#000"/>
<rect x="440" y="331" width="3" height="1" fill="#000"/>
<rect x="635" y="331" width="3" height="1" fill="#000"/>
<rect x="52" y="327" width="3" height="1" fill="#000"/>
<rect x="247" y="327" width="3" height="1" fill="#000"/>
<rect x="442" y="327" width="3" height="1" fill="#000"/>
<rect x="245" y="327" width="3" height="1" fill="#000"/>
<rect x="440" y="327" width="3" height="1" fill="#000"/>
<rect x="635" y="327" width="3" height="1" fill="#000"/>
<rect x="52" y="324" width="3" height="1" fill="#000"/>
<rect x="247" y="324" width="3" height="1" fill="#000"/>
<rect x="442" y="324" width="3" height="1" fill="#000"/>
<rect x="245" y="324" width="3" height="1" fill="#000"/>
<rect x="440" y="324" width="3" height="1" fill="#000"/>
<rect x="635" y="324" width="3" height="1" fill="#000"/>
<rect x="52" y="320" width="3" height="1" fill="#000"/>
<rect x="247" y="320" width="3" height="1" fill="#000"/>
<rect x="442" y="320" width="3" height="1" fill="#000"/>
<rect x="245" y="320" width="3" height="1" fill="#000"/>
<rect x="440" y="320" width="3" height="1" fill="#000"/>
<rect x="635" y="320" width="3" height="1" fill="#000"/>
<rect x="52" y="316" width="3" height="1" fill="#000"/>
<rect x="247" y="316" width="3" height="1" fill="#000"/>
<rect x="442" y="316" width="3" height="1" fill="#000"/>
<rect x="245" y="316" width="3" height="1" fill="#000"/>
<rect x="440" y="316" width="3" height="1" fill="#000"/>
<rect x="635" y="316" width="3" height="1" fill="#000"/>
<rect x="52" y="313" width="5" height="1" fill="#000"/>
<rect x="247" y="313" width="5" height="1" fill="#000"/>
<rect x="442" y="313" width="5" height="1" fill="#000"/>
<rect x="243" y="313" width="5" height="1" fill="#000"/>
<rect x="438" y="313" width="5" height="1" fill="#000"/>
<rect x="633" y="313" width="5" height="1" fill="#000"/>
<rect x="52" y="309" width="3" height="1" fill="#000"/>
<rect x="247" y="309" width="3" height="1" fill="#000"/>
<rect x="442" y="309" width="3" height="1" fill="#000"/>
<rect x="245" y="309" width="3" height="1" fill="#000"/>
<rect x="440" y="309" width="3" height="1" fill="#000"/>
<rect x="635" y="309" width="3" height="1" fill="#000"/>
<rect x="52" y="306" width="3" height="1" fill="#000"/>
<rect x="247" y="306" width="3" height="1" fill="#000"/>
<rect x="442" y="306" width="3" height="1" fill="#000"/>
<rect x="245" y="306" width="3" height="1" fill="#000"/>
<rect x="440" y="306" width="3" height="1" fill="#000"/>
<rect x="635" y="306" width="3" height="1" fill="#000"/>
<rect x="52" y="302" width="3" height="1" fill="#000"/>
<rect x="247" y="302" width="3" height="1" fill="#000"/>
<rect x="442" y="302" width="3" height="1" fill="#000"/>
<rect x="245" y="302" width="3" height="1" fill="#000"/>
<rect x="440" y="302" width="3" height="1" fill="#000"/>
<rect x="635" y="302" width="3" height="1" fill="#000"/>
<rect x="52" y="298" width="3" height="1" fill="#000"/>
<rect x="247" y="298" width="3" height="1" fill="#000"/>
<rect x="442" y="298" width="3" height="1" fill="#000"/>
<rect x="245" y="298" width="3" height="1" fill="#000"/>
<rect x="440" y="298" width="3" height="1" fill="#000"/>
<rect x="635" y="298" width="3" height="1" fill="#000"/>
<rect x="52" y="295" width="3" height="1" fill="#000"/>
<rect x="247" y="295" width="3" height="1" fill="#000"/>
<rect x="442" y="295" width="3" height="1" fill="#000"/>
<rect x="245" y="295" width="3" height="1" fill="#000"/>
<rect x="440" y="295" width="3" height="1" fill="#000"/>
<rect x="635" y="295" width="3" height="1" fill="#000"/>
<rect x="52" y="291" width="3" height="1" fill="#000"/>
<rect x="247" y="291" width="3" height="1" fill="#000"/>
<rect x="442" y="291" width="3" height="1" fill="#000"/>
<rect x="245" y="291" width="3" height="1" fill="#000"/>
<rect x="440" y="291" width="3" height="1" fill="#000"/>
<rect x="635" y="291" width="3" height="1" fill="#000"/>
<rect x="52" y="288" width="3" height="1" fill="#000"/>
<rect x="247" y="288" width="3" height="1" fill="#000"/>
<rect x="442" y="288" width="3" height="1" fill="#000"/>
<rect x="245" y="288" width="3" height="1" fill="#000"/>
<rect x="440" y="288" width="3" height="1" fill="#000"/>
<rect x="635" y="288" width="3" height="1" fill="#000"/>
<rect x="52" y="284" width="3" height="1" fill="#000"/>
<rect x="247" y="284" width="3" height="1" fill="#000"/>
<rect x="442" y="284" width="3" height="1" fill="#000"/>
<rect x="245" y="284" width="3" height="1" fill="#000"/>
<rect x="440" y="284" width="3" height="1" fill="#000"/>
<rect x="635" y="284" width="3" height="1" fill="#000"/>
<rect x="52" y="280" width="3" height="1" fill="#000"/>
<rect x="247" y="280" width="3" height="1" fill="#000"/>
<rect x="442" y="280" width="3" height="1" fill="#000"/>
<rect x="245" y="280" width="3" height="1" fill="#000"/>
<rect x="440" y="280" width="3" height="1" fill="#000"/>
<rect x="635" y="280" width="3" height="1" fill="#000"/>
<rect x="52" y="277" width="5" height="1" fill="#000"/>
<rect x="247" y="277" width="5" height="1" fill="#000"/>
<rect x="442" y="277" width="5" height="1" fill="#000"/>
<rect x="243" y="277" width="5" height="1" fill="#000"/>
<rect x="438" y="277" width="5" height="1" fill="#000"/>
<rect x="633" y="277" width="5" height="1" fill="#000"/>
<rect x="52" y="273" width="3" height="1" fill="#000"/>
<rect x="247" y="273" width="3" height="1" fill="#000"/>
<rect x="442" y="273" width="3" height="1" fill="#000"/>
<rect x="245" y="273" width="3" height="1" fill="#000"/>
<rect x="440" y="273" width="3" height="1" fill="#000"/>
<rect x="635" y="273" width="3" height="1" fill="#000"/>
<rect x="52" y="270" width="3" height="1" fill="#000"/>
<rect x="247" y="270" width="3" height="1" fill="#000"/>
<rect x="442" y="270" width="3" height="1" fill="#000"/>
<rect x="245" y="270" width="3" height="1" fill="#000"/>
<rect x="440" y="270" width="3" height="1" fill="#000"/>
<rect x="635" y="270" width="3" height="1" fill="#000"/>
<rect x="52" y="266" width="3" height="1" fill="#000"/>
<rect x="247" y="266" width="3" height="1" fill="#000"/>
<rect x="442" y="266" width="3" height="1" fill="#000"/>
<rect x="245" y="266" width="3" height="1" fill="#000"/>
<rect x="440" y="266" width="3" height="1" fill="#000"/>
<rect x="635" y="266" width="3" height="1" fill="#000"/>
<rect x="52" y="262" width="3" height="1" fill="#000"/>
<rect x="247" y="262" width="3" height="1" fill="#000"/>
<rect x="442" y="262" width="3" height="1" fill="#000"/>
<rect x="245" y="262" width="3" height="1" fill="#000"/>
<rect x="440" y="262" width="3" height="1" fill="#000"/>
<rect x="635" y="262" width="3" height="1" fill="#000"/>
<rect x="52" y="259" width="3" height="1" fill="#000"/>
<rect x="247" y="259" width="3" height="1" fill="#000"/>
<rect x="442" y="259" width="3" height="1" fill="#000"/>
<rect x="245" y="259" width="3" height="1" fill="#000"/>
<rect x="440" y="259" width="3" height="1" fill="#000"/>
<rect x="635" y="259" width="3" height="1" fill="#000"/>
<rect x="52" y="255" width="3" height="1" fill="#000"/>
<rect x="247" y="255" width="3" height="1" fill="#000"/>
<rect x="442" y="255" width="3" height="1" fill="#000"/>
<rect x="245" y="255" width="3" height="1" fill="#000"/>
<rect x="440" y="255" width="3" height="1" fill="#000"/>
<rect x="635" y="255" width="3" height="1" fill="#000"/>
<rect x="52" y="252" width="3" height="1" fill="#000"/>
<rect x="247" y="252" width="3" height="1" fill="#000"/>
<rect x="442" y="252" width="3" height="1" fill="#000"/>
<rect x="245" y="252" width="3" height="1" fill="#000"/>
<rect x="440" y="252" width="3" height="1" fill="#000"/>
<rect x="635" y="252" width="3" height="1" fill="#000"/>
<rect x="52" y="248" width="3" height="1" fill="#000"/>
<rect x="247" y="248" width="3" height="1" fill="#000"/>
<rect x="442" y="248" width="3" height="1" fill="#000"/>
<rect x="245" y="248" width="3" height="1" fill="#000"/>
<rect x="440" y="248" width="3" height="1" fill="#000"/>
<rect x="635" y="248" width="3" height="1" fill="#000"/>
<rect x="52" y="244" width="3" height="1" fill="#000"/>
<rect x="247" y="244" width="3" height="1" fill="#000"/>
<rect x="442" y="244" width="3" height="1" fill="#000"/>
<rect x="245" y="244" width="3" height="1" fill="#000"/>
<rect x="440" y="244" width="3" height="1" fill="#000"/>
<rect x="635" y="244" width="3" height="1" fill="#000"/>
<rect x="52" y="241" width="5" height="1" fill="#000"/>
<rect x="247" y="241" width="5" height="1" fill="#000"/>
<rect x="442" y="241" width="5" height="1" fill="#000"/>
<rect x="243" y="241" width="5" height="1" fill="#000"/>
<rect x="438" y="241" width="5" height="1" fill="#000"/>
<rect x="633" y="241" width="5" height="1" fill="#000"/>
<rect x="52" y="237" width="3" height="1" fill="#000"/>
<rect x="247" y="237" width="3" height="1" fill="#000"/>
<rect x="442" y="237" width="3" height="1" fill="#000"/>
<rect x="245" y="237" width="3" height="1" fill="#000"/>
<rect x="440" y="237" width="3" height="1" fill="#000"/>
<rect x="635" y="237" width="3" height="1" fill="#000"/>
<rect x="52" y="234" width="3" height="1" fill="#000"/>
<rect x="247" y="234" width="3" height="1" fill="#000"/>
<rect x="442" y="234" width="3" height="1" fill="#000"/>
<rect x="245" y="234" width="3" height="1" fill="#000"/>
<rect x="440" y="234" width="3" height="1" fill="#000"/>
<rect x="635" y="234" width="3" height="1" fill="#000"/>
<text transform="translate(118.80,18.0) scale(1,1.1480)" font-size="14.63" fill="#000" textLength="38.23" lengthAdjust="spacing">LYRA</text>
<text transform="translate(166.53,18.0) scale(1,1.0000)" font-size="16.80" fill="#000" textLength="40.59" lengthAdjust="spacing">short</text>
<text transform="translate(222.02,18.0) scale(1,1.0000)" font-size="16.80" fill="#000" textLength="89.07" lengthAdjust="spacing">wavelength</text>
<text transform="translate(319.29,18.0) scale(1,1.0000)" font-size="16.80" fill="#000" textLength="72.32" lengthAdjust="spacing">channels</text>
<text transform="translate(398.96,18.0) scale(1,1.0000)" font-size="16.80" fill="#000" textLength="19.86" lengthAdjust="spacing">(1</text>
<text transform="translate(425.97,18.0) scale(1,1.0792)" font-size="15.57" fill="#000" textLength="46.73" lengthAdjust="spacing">minute</text>
<text transform="translate(481.29,18.0) scale(1,1.0000)" font-size="16.80" fill="#000" textLength="89.76" lengthAdjust="spacing">averages)</text>
<rect x="209" y="12" width="11" height="1" fill="#000"/>
<text transform="translate(65.30,39.8) scale(1,1.0786)" font-size="13.72" fill="#0000ff" textLength="51.11" lengthAdjust="spacing">Channel</text>
<text transform="translate(123.26,39.8) scale(1,1.0000)" font-size="14.80" fill="#0000ff">2</text>
<text transform="translate(143.44,39.8) scale(1,1.0024)" font-size="14.76" fill="#0000ff">3</text>
<text transform="translate(259.97,39.8) scale(1,1.0315)" font-size="14.35" fill="#0000ff" textLength="66.97" lengthAdjust="spacing">Aluminium</text>
<text transform="translate(333.80,39.8) scale(1,1.0138)" font-size="14.60" fill="#0000ff" textLength="32.44" lengthAdjust="spacing">Filter</text>
<text transform="translate(455.88,39.8) scale(1,1.0062)" font-size="14.71" fill="#0000ff" textLength="16.36" lengthAdjust="spacing">17</text>
<text transform="translate(483.36,39.8) scale(1,1.0115)" font-size="14.63" fill="#0000ff" textLength="36.60" lengthAdjust="spacing">80nm</text>
<text transform="translate(545.20,39.8) scale(1,1.0934)" font-size="13.54" fill="#0000ff" textLength="27.83" lengthAdjust="spacing">Xray</text>
<text transform="translate(65.30,249.8) scale(1,1.0786)" font-size="13.72" fill="#777777" textLength="51.11" lengthAdjust="spacing">Channel</text>
<text transform="translate(123.26,249.8) scale(1,1.0000)" font-size="14.80" fill="#777777">2</text>
<text transform="translate(142.66,249.8) scale(1,1.0000)" font-size="14.80" fill="#777777">4</text>
<text transform="translate(260.53,249.8) scale(1,1.0000)" font-size="14.80" fill="#777777" textLength="65.45" lengthAdjust="spacing">Zirconium</text>
<text transform="translate(330.79,249.8) scale(1,1.0000)" font-size="14.80" fill="#777777" textLength="33.46" lengthAdjust="spacing">Filter</text>
<text transform="translate(455.25,249.8) scale(1,1.0000)" font-size="14.80" fill="#777777">6</text>
<text transform="translate(474.26,249.8) scale(1,1.0000)" font-size="14.80" fill="#777777" textLength="37.72" lengthAdjust="spacing">20nm</text>
<text transform="translate(536.69,249.8) scale(1,1.0739)" font-size="13.78" fill="#777777" textLength="28.34" lengthAdjust="spacing">Xray</text>
<rect x="133" y="35" width="9" height="1" fill="#0000ff"/>
<rect x="473" y="35" width="9" height="1" fill="#0000ff"/>
<rect x="528" y="35" width="9" height="1" fill="#0000ff"/>
<rect x="532" y="31" width="1" height="9" fill="#0000ff"/>
<rect x="133" y="245" width="9" height="1" fill="#777777"/>
<rect x="465" y="245" width="8" height="1" fill="#777777"/>
<rect x="520" y="245" width="9" height="1" fill="#777777"/>
<rect x="524" y="241" width="1" height="9" fill="#777777"/>
<text transform="translate(32.42,234.8) scale(1,1.0000)" font-size="11.50" fill="#000" textLength="16.58" lengthAdjust="spacing">2.3</text>
<text transform="translate(32.42,208.4) scale(1,1.0000)" font-size="11.50" fill="#000" textLength="16.42" lengthAdjust="spacing">2.4</text>
<text transform="translate(32.42,177.0) scale(1,1.0000)" font-size="11.50" fill="#000" textLength="16.56" lengthAdjust="spacing">2.5</text>
<text transform="translate(32.42,145.7) scale(1,1.0000)" font-size="11.50" fill="#000" textLength="16.58" lengthAdjust="spacing">2.6</text>
<text transform="translate(32.42,114.4) scale(1,1.0000)" font-size="11.50" fill="#000" textLength="16.66" lengthAdjust="spacing">2.7</text>
<text transform="translate(32.42,83.0) scale(1,1.0000)" font-size="11.50" fill="#000" textLength="16.58" lengthAdjust="spacing">2.8</text>
<text transform="translate(32.42,51.7) scale(1,1.0000)" font-size="11.50" fill="#000" textLength="16.62" lengthAdjust="spacing">2.9</text>
<text transform="translate(33.13,426.2) scale(1,1.0034)" font-size="11.46" fill="#000" textLength="15.93" lengthAdjust="spacing">1.1</text>
<text transform="translate(33.13,390.2) scale(1,1.0022)" font-size="11.47" fill="#000" textLength="15.95" lengthAdjust="spacing">1.2</text>
<text transform="translate(33.13,354.2) scale(1,1.0073)" font-size="11.42" fill="#000" textLength="15.87" lengthAdjust="spacing">1.3</text>
<text transform="translate(33.14,318.2) scale(1,1.0189)" font-size="11.29" fill="#000" textLength="15.69" lengthAdjust="spacing">1.4</text>
<text transform="translate(33.13,282.2) scale(1,1.0088)" font-size="11.40" fill="#000" textLength="15.85" lengthAdjust="spacing">1.5</text>
<text transform="translate(33.13,246.2) scale(1,1.0073)" font-size="11.42" fill="#000" textLength="15.87" lengthAdjust="spacing">1.6</text>
<text transform="translate(48.45,462.6) scale(1,1.0000)" font-size="14.00" fill="#000">0</text>
<text transform="translate(89.06,462.6) scale(1,1.0000)" font-size="14.00" fill="#000">5</text>
<text transform="translate(125.18,462.6) scale(1,1.0000)" font-size="14.00" fill="#000" textLength="16.61" lengthAdjust="spacing">10</text>
<text transform="translate(165.81,462.6) scale(1,1.0000)" font-size="14.00" fill="#000" textLength="16.65" lengthAdjust="spacing">15</text>
<text transform="translate(206.80,462.6) scale(1,1.0000)" font-size="14.00" fill="#000" textLength="16.25" lengthAdjust="spacing">20</text>
<text transform="translate(243.45,462.6) scale(1,1.0000)" font-size="14.00" fill="#000">0</text>
<text transform="translate(284.06,462.6) scale(1,1.0000)" font-size="14.00" fill="#000">5</text>
<text transform="translate(320.18,462.6) scale(1,1.0000)" font-size="14.00" fill="#000" textLength="16.61" lengthAdjust="spacing">10</text>
<text transform="translate(360.81,462.6) scale(1,1.0000)" font-size="14.00" fill="#000" textLength="16.65" lengthAdjust="spacing">15</text>
<text transform="translate(401.80,462.6) scale(1,1.0000)" font-size="14.00" fill="#000" textLength="16.25" lengthAdjust="spacing">20</text>
<text transform="translate(438.45,462.6) scale(1,1.0000)" font-size="14.00" fill="#000">0</text>
<text transform="translate(479.06,462.6) scale(1,1.0000)" font-size="14.00" fill="#000">5</text>
<text transform="translate(515.18,462.6) scale(1,1.0000)" font-size="14.00" fill="#000" textLength="16.61" lengthAdjust="spacing">10</text>
<text transform="translate(555.81,462.6) scale(1,1.0000)" font-size="14.00" fill="#000" textLength="16.65" lengthAdjust="spacing">15</text>
<text transform="translate(596.80,462.6) scale(1,1.0000)" font-size="14.00" fill="#000" textLength="16.25" lengthAdjust="spacing">20</text>
<line x1="92.8" y1="480.8" x2="100.6" y2="468.8" stroke="#000" stroke-width="0.9" shape-rendering="auto"/>
<text transform="translate(55.19,478.9) scale(1,1.0959)" font-size="13.69" fill="#000" textLength="30.42" lengthAdjust="spacing">Time</text>
<text transform="translate(108.16,478.9) scale(1,1.0000)" font-size="15.00" fill="#000">h</text>
<text transform="translate(122.81,478.9) scale(1,1.1729)" font-size="12.79" fill="#000" textLength="29.84" lengthAdjust="spacing">UTC,</text>
<text transform="translate(159.01,478.9) scale(1,1.0000)" font-size="15.00" fill="#000" textLength="17.12" lengthAdjust="spacing">05</text>
<text transform="translate(182.27,478.9) scale(1,1.1142)" font-size="13.46" fill="#000" textLength="20.95" lengthAdjust="spacing">Apr</text>
<text transform="translate(210.05,478.9) scale(1,1.0000)" font-size="15.00" fill="#000" textLength="33.58" lengthAdjust="spacing">2025</text>
<text transform="translate(302.11,478.9) scale(1,1.0000)" font-size="15.00" fill="#000" textLength="17.55" lengthAdjust="spacing">06</text>
<text transform="translate(325.77,478.9) scale(1,1.1142)" font-size="13.46" fill="#000" textLength="20.95" lengthAdjust="spacing">Apr</text>
<text transform="translate(353.45,478.9) scale(1,1.0058)" font-size="14.91" fill="#000" textLength="33.18" lengthAdjust="spacing">2025</text>
<text transform="translate(497.11,478.9) scale(1,1.0000)" font-size="15.00" fill="#000" textLength="17.14" lengthAdjust="spacing">07</text>
<text transform="translate(520.77,478.9) scale(1,1.1142)" font-size="13.46" fill="#000" textLength="20.95" lengthAdjust="spacing">Apr</text>
<text transform="translate(548.45,478.9) scale(1,1.0058)" font-size="14.91" fill="#000" textLength="33.18" lengthAdjust="spacing">2025</text>
<text transform="translate(488.12,495.1) scale(1,1.0812)" font-size="10.73" fill="#000" textLength="54.84" lengthAdjust="spacing">ROB/SIDC,</text>
<text transform="translate(549.05,495.1) scale(1,1.0046)" font-size="11.55" fill="#000" textLength="47.48" lengthAdjust="spacing">Brussels,</text>
<text transform="translate(601.05,495.1) scale(1,1.0000)" font-size="11.60" fill="#000" textLength="42.22" lengthAdjust="spacing">Belgium</text>
<text transform="translate(23.6,0) rotate(-90) scale(1,1.0889)" x="-209.08" y="0" font-size="11.48" fill="#000" textLength="52.32" lengthAdjust="spacing">Calibrated</text>
<text transform="translate(23.6,0) rotate(-90) scale(1,1.1303)" x="-151.50" y="0" font-size="11.06" fill="#000" textLength="30.74" lengthAdjust="spacing">Signal</text>
<text transform="translate(23.6,0) rotate(-90) scale(1,1.1209)" x="-103.19" y="0" font-size="11.15" fill="#000" textLength="23.53" lengthAdjust="spacing">(mW</text>
<text transform="translate(23.6,0) rotate(-90) scale(1,1.2165)" x="-73.18" y="0" font-size="10.28" fill="#000">m</text>
<text transform="translate(23.6,0) rotate(-90) scale(1,1.0000)" x="-55.07" y="0" font-size="12.50" fill="#000">)</text>
<text transform="translate(18.2,0) rotate(-90) scale(1,1.0000)" x="-60.43" y="0" font-size="8.50" fill="#000">2</text>
<rect x="15" y="61" width="1" height="3" fill="#000"/>
<line x1="14" y1="108" x2="26" y2="115" stroke="#000" stroke-width="0.9" shape-rendering="auto"/>
<text transform="translate(23.6,0) rotate(-90) scale(1,1.0889)" x="-419.08" y="0" font-size="11.48" fill="#000" textLength="52.32" lengthAdjust="spacing">Calibrated</text>
<text transform="translate(23.6,0) rotate(-90) scale(1,1.1303)" x="-361.50" y="0" font-size="11.06" fill="#000" textLength="30.74" lengthAdjust="spacing">Signal</text>
<text transform="translate(23.6,0) rotate(-90) scale(1,1.1209)" x="-313.19" y="0" font-size="11.15" fill="#000" textLength="23.53" lengthAdjust="spacing">(mW</text>
<text transform="translate(23.6,0) rotate(-90) scale(1,1.2165)" x="-283.18" y="0" font-size="10.28" fill="#000">m</text>
<text transform="translate(23.6,0) rotate(-90) scale(1,1.0000)" x="-265.07" y="0" font-size="12.50" fill="#000">)</text>
<text transform="translate(18.2,0) rotate(-90) scale(1,1.0000)" x="-270.43" y="0" font-size="8.50" fill="#000">2</text>
<rect x="15" y="271" width="1" height="3" fill="#000"/>
<line x1="14" y1="318" x2="26" y2="325" stroke="#000" stroke-width="0.9" shape-rendering="auto"/>
<path d="M52 169h1v1h-1zM52 170h1v1h-1zM52 171h1v1h-1zM52 172h1v1h-1zM52 173h1v1h-1zM53 172h1v1h-1zM53 173h1v1h-1zM53 174h1v1h-1zM53 175h1v1h-1zM53 176h1v1h-1zM54 176h1v1h-1zM54 177h1v1h-1zM54 178h1v1h-1zM55 177h1v1h-1zM55 178h1v1h-1zM55 179h1v1h-1zM56 179h1v1h-1zM56 180h1v1h-1zM57 180h1v1h-1zM57 181h1v1h-1zM57 182h1v1h-1zM58 180h1v1h-1zM58 181h1v1h-1zM58 182h1v1h-1zM59 183h1v1h-1zM59 184h1v1h-1zM60 185h1v1h-1zM60 186h1v1h-1zM61 185h1v1h-1zM61 186h1v1h-1zM61 187h1v1h-1zM62 184h1v1h-1zM62 185h1v1h-1zM62 186h1v1h-1zM63 185h1v1h-1zM63 186h1v1h-1zM63 187h1v1h-1zM64 186h1v1h-1zM64 187h1v1h-1zM65 186h1v1h-1zM65 187h1v1h-1zM66 186h1v1h-1zM66 187h1v1h-1zM67 185h1v1h-1zM67 186h1v1h-1zM67 187h1v1h-1zM68 182h1v1h-1zM68 185h1v1h-1zM68 186h1v1h-1zM69 184h1v1h-1zM69 185h1v1h-1zM70 184h1v1h-1zM70 185h1v1h-1zM70 186h1v1h-1zM71 185h1v1h-1zM71 186h1v1h-1zM72 185h1v1h-1zM72 186h1v1h-1zM73 185h1v1h-1zM73 186h1v1h-1zM73 187h1v1h-1zM74 186h1v1h-1zM74 187h1v1h-1zM75 182h1v1h-1zM75 183h1v1h-1zM75 184h1v1h-1zM75 185h1v1h-1zM75 186h1v1h-1zM75 187h1v1h-1zM76 181h1v1h-1zM76 182h1v1h-1zM76 183h1v1h-1zM77 182h1v1h-1zM77 183h1v1h-1zM77 184h1v1h-1zM78 182h1v1h-1zM78 184h1v1h-1zM78 185h1v1h-1zM79 184h1v1h-1zM79 185h1v1h-1zM80 184h1v1h-1zM80 185h1v1h-1zM80 186h1v1h-1zM81 184h1v1h-1zM81 185h1v1h-1zM81 187h1v1h-1zM82 184h1v1h-1zM83 182h1v1h-1zM83 183h1v1h-1zM83 184h1v1h-1zM84 181h1v1h-1zM84 182h1v1h-1zM84 183h1v1h-1zM85 178h1v1h-1zM85 181h1v1h-1zM85 182h1v1h-1zM86 179h1v1h-1zM86 180h1v1h-1zM86 181h1v1h-1zM87 178h1v1h-1zM87 179h1v1h-1zM87 180h1v1h-1zM88 177h1v1h-1zM88 178h1v1h-1zM89 177h1v1h-1zM89 178h1v1h-1zM90 176h1v1h-1zM90 177h1v1h-1zM91 176h1v1h-1zM91 177h1v1h-1zM92 176h1v1h-1zM92 177h1v1h-1zM93 176h1v1h-1zM93 177h1v1h-1zM94 176h1v1h-1zM94 177h1v1h-1zM95 176h1v1h-1zM95 177h1v1h-1zM96 176h1v1h-1zM96 177h1v1h-1zM97 176h1v1h-1zM97 177h1v1h-1zM98 175h1v1h-1zM98 176h1v1h-1zM98 177h1v1h-1zM99 177h1v1h-1zM99 178h1v1h-1zM100 176h1v1h-1zM100 177h1v1h-1zM100 178h1v1h-1zM101 177h1v1h-1zM101 178h1v1h-1zM101 179h1v1h-1zM102 177h1v1h-1zM103 175h1v1h-1zM103 176h1v1h-1zM103 177h1v1h-1zM103 178h1v1h-1zM104 174h1v1h-1zM104 175h1v1h-1zM105 173h1v1h-1zM105 174h1v1h-1zM106 173h1v1h-1zM106 174h1v1h-1zM107 173h1v1h-1zM107 174h1v1h-1zM108 173h1v1h-1zM108 174h1v1h-1zM108 175h1v1h-1zM109 173h1v1h-1zM109 174h1v1h-1zM109 175h1v1h-1zM110 174h1v1h-1zM110 175h1v1h-1zM111 174h1v1h-1zM111 175h1v1h-1zM112 175h1v1h-1zM113 175h1v1h-1zM113 176h1v1h-1zM114 176h1v1h-1zM114 177h1v1h-1zM115 175h1v1h-1zM115 176h1v1h-1zM115 177h1v1h-1zM116 174h1v1h-1zM116 175h1v1h-1zM116 176h1v1h-1zM117 173h1v1h-1zM117 174h1v1h-1zM117 175h1v1h-1zM118 173h1v1h-1zM118 174h1v1h-1zM119 171h1v1h-1zM119 172h1v1h-1zM120 172h1v1h-1zM120 173h1v1h-1zM121 172h1v1h-1zM121 173h1v1h-1zM121 174h1v1h-1zM122 174h1v1h-1zM122 175h1v1h-1zM123 175h1v1h-1zM124 175h1v1h-1zM124 176h1v1h-1zM124 177h1v1h-1zM125 176h1v1h-1zM125 177h1v1h-1zM126 176h1v1h-1zM126 177h1v1h-1zM127 175h1v1h-1zM127 176h1v1h-1zM128 175h1v1h-1zM129 174h1v1h-1zM129 175h1v1h-1zM130 174h1v1h-1zM130 175h1v1h-1zM131 174h1v1h-1zM131 175h1v1h-1zM132 174h1v1h-1zM132 175h1v1h-1zM132 176h1v1h-1zM133 175h1v1h-1zM133 176h1v1h-1zM134 175h1v1h-1zM134 176h1v1h-1zM134 177h1v1h-1zM135 177h1v1h-1zM135 178h1v1h-1zM136 177h1v1h-1zM136 178h1v1h-1zM136 179h1v1h-1zM137 177h1v1h-1zM137 178h1v1h-1zM138 177h1v1h-1zM138 178h1v1h-1zM139 177h1v1h-1zM139 178h1v1h-1zM140 178h1v1h-1zM141 177h1v1h-1zM141 178h1v1h-1zM141 179h1v1h-1zM142 174h1v1h-1zM142 177h1v1h-1zM142 178h1v1h-1zM143 178h1v1h-1zM143 179h1v1h-1zM144 177h1v1h-1zM144 178h1v1h-1zM145 175h1v1h-1zM145 176h1v1h-1zM146 171h1v1h-1zM146 174h1v1h-1zM146 175h1v1h-1zM146 176h1v1h-1zM147 175h1v1h-1zM147 176h1v1h-1zM147 177h1v1h-1zM148 175h1v1h-1zM148 176h1v1h-1zM148 177h1v1h-1zM149 176h1v1h-1zM149 177h1v1h-1zM150 176h1v1h-1zM150 177h1v1h-1zM151 176h1v1h-1zM151 177h1v1h-1zM152 176h1v1h-1zM152 177h1v1h-1zM153 173h1v1h-1zM153 175h1v1h-1zM153 176h1v1h-1zM153 177h1v1h-1zM154 174h1v1h-1zM154 175h1v1h-1zM154 176h1v1h-1zM155 173h1v1h-1zM155 174h1v1h-1zM156 173h1v1h-1zM156 174h1v1h-1zM157 172h1v1h-1zM157 174h1v1h-1zM157 175h1v1h-1zM158 174h1v1h-1zM158 175h1v1h-1zM158 176h1v1h-1zM159 176h1v1h-1zM159 177h1v1h-1zM160 176h1v1h-1zM160 177h1v1h-1zM160 178h1v1h-1zM161 178h1v1h-1zM161 179h1v1h-1zM162 178h1v1h-1zM162 179h1v1h-1zM163 178h1v1h-1zM163 179h1v1h-1zM164 178h1v1h-1zM164 179h1v1h-1zM165 178h1v1h-1zM166 178h1v1h-1zM166 179h1v1h-1zM167 178h1v1h-1zM167 179h1v1h-1zM168 179h1v1h-1zM168 180h1v1h-1zM169 178h1v1h-1zM169 179h1v1h-1zM169 180h1v1h-1zM170 176h1v1h-1zM170 179h1v1h-1zM170 180h1v1h-1zM171 179h1v1h-1zM171 180h1v1h-1zM172 176h1v1h-1zM172 178h1v1h-1zM172 179h1v1h-1zM172 180h1v1h-1zM173 177h1v1h-1zM173 178h1v1h-1zM173 179h1v1h-1zM174 177h1v1h-1zM174 178h1v1h-1zM175 177h1v1h-1zM175 178h1v1h-1zM176 176h1v1h-1zM176 177h1v1h-1zM176 178h1v1h-1zM177 176h1v1h-1zM177 177h1v1h-1zM177 178h1v1h-1zM178 176h1v1h-1zM178 177h1v1h-1zM178 178h1v1h-1zM179 176h1v1h-1zM179 177h1v1h-1zM179 178h1v1h-1zM180 177h1v1h-1zM181 176h1v1h-1zM181 177h1v1h-1zM182 176h1v1h-1zM182 177h1v1h-1zM182 178h1v1h-1zM183 178h1v1h-1zM183 179h1v1h-1zM184 178h1v1h-1zM184 179h1v1h-1zM184 180h1v1h-1zM185 178h1v1h-1zM185 179h1v1h-1zM185 180h1v1h-1zM186 178h1v1h-1zM186 179h1v1h-1zM187 177h1v1h-1zM187 178h1v1h-1zM187 179h1v1h-1zM188 177h1v1h-1zM188 178h1v1h-1zM189 175h1v1h-1zM189 176h1v1h-1zM189 177h1v1h-1zM189 178h1v1h-1zM190 172h1v1h-1zM190 173h1v1h-1zM190 174h1v1h-1zM190 175h1v1h-1zM191 170h1v1h-1zM191 171h1v1h-1zM191 172h1v1h-1zM192 171h1v1h-1zM192 172h1v1h-1zM193 171h1v1h-1zM193 172h1v1h-1zM193 173h1v1h-1zM194 172h1v1h-1zM194 173h1v1h-1zM194 174h1v1h-1zM195 171h1v1h-1zM195 172h1v1h-1zM195 173h1v1h-1zM196 169h1v1h-1zM196 170h1v1h-1zM196 171h1v1h-1zM197 168h1v1h-1zM197 169h1v1h-1zM197 170h1v1h-1zM198 168h1v1h-1zM198 169h1v1h-1zM199 166h1v1h-1zM199 167h1v1h-1zM199 168h1v1h-1zM199 169h1v1h-1zM200 165h1v1h-1zM200 166h1v1h-1zM200 167h1v1h-1zM201 164h1v1h-1zM201 165h1v1h-1zM202 163h1v1h-1zM202 164h1v1h-1zM203 162h1v1h-1zM203 163h1v1h-1zM204 161h1v1h-1zM204 162h1v1h-1zM205 159h1v1h-1zM205 160h1v1h-1zM205 161h1v1h-1zM205 162h1v1h-1zM206 154h1v1h-1zM206 155h1v1h-1zM206 156h1v1h-1zM206 157h1v1h-1zM206 158h1v1h-1zM206 160h1v1h-1zM207 148h1v1h-1zM207 149h1v1h-1zM207 151h1v1h-1zM207 152h1v1h-1zM208 149h1v1h-1zM208 150h1v1h-1zM208 151h1v1h-1zM209 151h1v1h-1zM209 153h1v1h-1zM209 155h1v1h-1zM209 158h1v1h-1zM209 159h1v1h-1zM209 160h1v1h-1zM210 160h1v1h-1zM210 161h1v1h-1zM210 162h1v1h-1zM210 163h1v1h-1zM211 163h1v1h-1zM211 164h1v1h-1zM211 165h1v1h-1zM212 165h1v1h-1zM212 166h1v1h-1zM212 167h1v1h-1zM213 167h1v1h-1zM213 168h1v1h-1zM213 169h1v1h-1zM214 169h1v1h-1zM217 136h1v1h-1zM217 137h1v1h-1zM218 135h1v1h-1zM218 136h1v1h-1zM219 135h1v1h-1zM219 136h1v1h-1zM219 138h1v1h-1zM219 140h1v1h-1zM219 142h1v1h-1zM219 144h1v1h-1zM219 145h1v1h-1zM219 146h1v1h-1zM219 148h1v1h-1zM220 148h1v1h-1zM220 149h1v1h-1zM220 150h1v1h-1zM220 152h1v1h-1zM220 153h1v1h-1zM220 154h1v1h-1zM221 154h1v1h-1zM221 155h1v1h-1zM221 156h1v1h-1zM222 153h1v1h-1zM222 154h1v1h-1zM222 156h1v1h-1zM223 157h1v1h-1zM223 158h1v1h-1zM223 159h1v1h-1zM223 160h1v1h-1zM223 161h1v1h-1zM224 162h1v1h-1zM224 163h1v1h-1zM224 164h1v1h-1zM224 165h1v1h-1zM224 166h1v1h-1zM224 167h1v1h-1zM225 165h1v1h-1zM225 167h1v1h-1zM225 168h1v1h-1zM225 169h1v1h-1zM225 171h1v1h-1zM226 171h1v1h-1zM226 172h1v1h-1zM226 173h1v1h-1zM226 174h1v1h-1zM226 175h1v1h-1zM227 175h1v1h-1zM227 176h1v1h-1zM227 177h1v1h-1zM228 178h1v1h-1zM228 179h1v1h-1zM229 177h1v1h-1zM229 178h1v1h-1zM230 176h1v1h-1zM230 177h1v1h-1zM230 178h1v1h-1zM231 176h1v1h-1zM231 177h1v1h-1zM231 178h1v1h-1zM232 177h1v1h-1zM232 178h1v1h-1zM233 178h1v1h-1zM233 179h1v1h-1zM234 177h1v1h-1zM234 178h1v1h-1zM234 179h1v1h-1zM235 179h1v1h-1zM235 180h1v1h-1zM235 181h1v1h-1zM236 180h1v1h-1zM236 181h1v1h-1zM237 182h1v1h-1zM238 181h1v1h-1zM238 182h1v1h-1zM238 183h1v1h-1zM239 180h1v1h-1zM239 181h1v1h-1zM240 175h1v1h-1zM240 178h1v1h-1zM240 179h1v1h-1zM240 180h1v1h-1zM241 179h1v1h-1zM241 180h1v1h-1zM241 181h1v1h-1zM242 182h1v1h-1zM242 183h1v1h-1zM242 184h1v1h-1zM243 181h1v1h-1zM243 182h1v1h-1zM244 179h1v1h-1zM244 180h1v1h-1zM244 181h1v1h-1zM245 178h1v1h-1zM245 179h1v1h-1zM245 180h1v1h-1zM246 178h1v1h-1zM246 179h1v1h-1zM247 179h1v1h-1zM247 180h1v1h-1zM247 181h1v1h-1zM247 182h1v1h-1zM247 184h1v1h-1zM248 184h1v1h-1zM248 185h1v1h-1zM249 185h1v1h-1zM250 185h1v1h-1zM250 186h1v1h-1zM251 184h1v1h-1zM251 185h1v1h-1zM252 184h1v1h-1zM252 185h1v1h-1zM253 184h1v1h-1zM253 185h1v1h-1zM254 184h1v1h-1zM254 185h1v1h-1zM254 186h1v1h-1zM255 181h1v1h-1zM255 185h1v1h-1zM255 186h1v1h-1zM256 184h1v1h-1zM256 185h1v1h-1zM257 183h1v1h-1zM257 184h1v1h-1zM258 182h1v1h-1zM258 183h1v1h-1zM259 182h1v1h-1zM259 183h1v1h-1zM260 182h1v1h-1zM260 183h1v1h-1zM261 181h1v1h-1zM261 182h1v1h-1zM261 183h1v1h-1zM262 183h1v1h-1zM262 184h1v1h-1zM263 183h1v1h-1zM263 184h1v1h-1zM263 185h1v1h-1zM264 185h1v1h-1zM264 186h1v1h-1zM265 185h1v1h-1zM265 186h1v1h-1zM265 187h1v1h-1zM266 186h1v1h-1zM266 187h1v1h-1zM267 186h1v1h-1zM267 187h1v1h-1zM267 188h1v1h-1zM268 187h1v1h-1zM268 188h1v1h-1zM269 188h1v1h-1zM269 189h1v1h-1zM270 188h1v1h-1zM270 189h1v1h-1zM271 188h1v1h-1zM271 189h1v1h-1zM272 188h1v1h-1zM272 189h1v1h-1zM273 188h1v1h-1zM273 189h1v1h-1zM274 189h1v1h-1zM274 190h1v1h-1zM275 190h1v1h-1zM276 189h1v1h-1zM276 190h1v1h-1zM277 188h1v1h-1zM277 189h1v1h-1zM278 188h1v1h-1zM278 189h1v1h-1zM279 188h1v1h-1zM279 189h1v1h-1zM280 188h1v1h-1zM280 189h1v1h-1zM281 188h1v1h-1zM282 188h1v1h-1zM282 189h1v1h-1zM283 187h1v1h-1zM283 188h1v1h-1zM284 187h1v1h-1zM284 188h1v1h-1zM285 187h1v1h-1zM285 188h1v1h-1zM286 186h1v1h-1zM286 187h1v1h-1zM287 185h1v1h-1zM287 186h1v1h-1zM287 187h1v1h-1zM288 183h1v1h-1zM288 184h1v1h-1zM288 185h1v1h-1zM288 186h1v1h-1zM289 182h1v1h-1zM289 183h1v1h-1zM289 184h1v1h-1zM290 179h1v1h-1zM290 180h1v1h-1zM290 181h1v1h-1zM291 178h1v1h-1zM291 179h1v1h-1zM291 180h1v1h-1zM292 177h1v1h-1zM292 178h1v1h-1zM293 176h1v1h-1zM293 177h1v1h-1zM294 175h1v1h-1zM294 176h1v1h-1zM295 174h1v1h-1zM295 175h1v1h-1zM296 174h1v1h-1zM296 175h1v1h-1zM297 175h1v1h-1zM297 176h1v1h-1zM298 176h1v1h-1zM298 177h1v1h-1zM298 178h1v1h-1zM299 178h1v1h-1zM299 179h1v1h-1zM299 180h1v1h-1zM300 181h1v1h-1zM300 182h1v1h-1zM300 183h1v1h-1zM301 179h1v1h-1zM301 182h1v1h-1zM301 183h1v1h-1zM301 184h1v1h-1zM302 183h1v1h-1zM302 184h1v1h-1zM303 183h1v1h-1zM303 184h1v1h-1zM303 185h1v1h-1zM304 183h1v1h-1zM304 184h1v1h-1zM304 185h1v1h-1zM305 183h1v1h-1zM305 184h1v1h-1zM306 183h1v1h-1zM306 184h1v1h-1zM306 185h1v1h-1zM307 184h1v1h-1zM307 185h1v1h-1zM307 186h1v1h-1zM308 185h1v1h-1zM308 186h1v1h-1zM308 187h1v1h-1zM309 186h1v1h-1zM309 187h1v1h-1zM310 187h1v1h-1zM310 188h1v1h-1zM311 187h1v1h-1zM311 188h1v1h-1zM312 188h1v1h-1zM312 189h1v1h-1zM313 189h1v1h-1zM313 190h1v1h-1zM314 189h1v1h-1zM314 190h1v1h-1zM315 189h1v1h-1zM315 190h1v1h-1zM316 189h1v1h-1zM317 189h1v1h-1zM317 190h1v1h-1zM318 189h1v1h-1zM318 190h1v1h-1zM319 188h1v1h-1zM319 189h1v1h-1zM320 188h1v1h-1zM320 189h1v1h-1zM320 190h1v1h-1zM321 188h1v1h-1zM321 189h1v1h-1zM322 188h1v1h-1zM322 189h1v1h-1zM323 189h1v1h-1zM323 190h1v1h-1zM324 190h1v1h-1zM324 191h1v1h-1zM325 187h1v1h-1zM325 190h1v1h-1zM325 191h1v1h-1zM326 189h1v1h-1zM326 190h1v1h-1zM326 191h1v1h-1zM327 190h1v1h-1zM327 191h1v1h-1zM328 190h1v1h-1zM328 191h1v1h-1zM329 189h1v1h-1zM329 190h1v1h-1zM329 191h1v1h-1zM330 191h1v1h-1zM330 192h1v1h-1zM331 190h1v1h-1zM331 191h1v1h-1zM332 190h1v1h-1zM332 191h1v1h-1zM333 189h1v1h-1zM333 190h1v1h-1zM334 189h1v1h-1zM334 190h1v1h-1zM334 191h1v1h-1zM335 190h1v1h-1zM336 190h1v1h-1zM336 191h1v1h-1zM337 191h1v1h-1zM337 192h1v1h-1zM338 191h1v1h-1zM338 192h1v1h-1zM339 191h1v1h-1zM339 192h1v1h-1zM340 191h1v1h-1zM340 192h1v1h-1zM341 191h1v1h-1zM341 192h1v1h-1zM342 191h1v1h-1zM342 192h1v1h-1zM343 189h1v1h-1zM343 190h1v1h-1zM343 191h1v1h-1zM344 188h1v1h-1zM344 189h1v1h-1zM345 189h1v1h-1zM345 190h1v1h-1zM345 191h1v1h-1zM346 190h1v1h-1zM346 191h1v1h-1zM346 192h1v1h-1zM347 190h1v1h-1zM347 191h1v1h-1zM348 189h1v1h-1zM348 190h1v1h-1zM348 191h1v1h-1zM349 189h1v1h-1zM349 190h1v1h-1zM350 188h1v1h-1zM350 189h1v1h-1zM350 190h1v1h-1zM351 187h1v1h-1zM351 188h1v1h-1zM351 189h1v1h-1zM352 187h1v1h-1zM352 188h1v1h-1zM353 187h1v1h-1zM353 188h1v1h-1zM354 188h1v1h-1zM354 189h1v1h-1zM355 188h1v1h-1zM355 189h1v1h-1zM355 190h1v1h-1zM355 191h1v1h-1zM356 188h1v1h-1zM356 189h1v1h-1zM357 187h1v1h-1zM357 188h1v1h-1zM358 187h1v1h-1zM358 188h1v1h-1zM359 187h1v1h-1zM359 188h1v1h-1zM359 189h1v1h-1zM360 187h1v1h-1zM360 188h1v1h-1zM360 189h1v1h-1zM361 188h1v1h-1zM361 189h1v1h-1zM361 190h1v1h-1zM362 189h1v1h-1zM362 190h1v1h-1zM363 189h1v1h-1zM363 190h1v1h-1zM363 192h1v1h-1zM364 189h1v1h-1zM364 190h1v1h-1zM365 188h1v1h-1zM365 189h1v1h-1zM366 188h1v1h-1zM366 189h1v1h-1zM367 188h1v1h-1zM367 189h1v1h-1zM367 190h1v1h-1zM368 188h1v1h-1zM368 189h1v1h-1zM369 189h1v1h-1zM369 190h1v1h-1zM370 188h1v1h-1zM370 189h1v1h-1zM370 190h1v1h-1zM371 188h1v1h-1zM371 189h1v1h-1zM372 187h1v1h-1zM372 188h1v1h-1zM372 189h1v1h-1zM373 186h1v1h-1zM373 187h1v1h-1zM374 182h1v1h-1zM374 185h1v1h-1zM374 186h1v1h-1zM375 184h1v1h-1zM375 185h1v1h-1zM376 180h1v1h-1zM376 182h1v1h-1zM376 184h1v1h-1zM376 185h1v1h-1zM376 186h1v1h-1zM377 174h1v1h-1zM377 175h1v1h-1zM377 176h1v1h-1zM377 177h1v1h-1zM377 178h1v1h-1zM378 179h1v1h-1zM378 180h1v1h-1zM379 180h1v1h-1zM379 181h1v1h-1zM379 182h1v1h-1zM380 181h1v1h-1zM380 182h1v1h-1zM380 183h1v1h-1zM381 183h1v1h-1zM381 184h1v1h-1zM381 185h1v1h-1zM381 186h1v1h-1zM382 186h1v1h-1zM382 187h1v1h-1zM382 188h1v1h-1zM382 189h1v1h-1zM383 189h1v1h-1zM383 190h1v1h-1zM384 189h1v1h-1zM384 190h1v1h-1zM384 191h1v1h-1zM385 190h1v1h-1zM385 191h1v1h-1zM386 191h1v1h-1zM386 192h1v1h-1zM387 189h1v1h-1zM387 190h1v1h-1zM387 191h1v1h-1zM388 189h1v1h-1zM388 190h1v1h-1zM389 190h1v1h-1zM389 191h1v1h-1zM389 192h1v1h-1zM390 186h1v1h-1zM390 187h1v1h-1zM390 188h1v1h-1zM390 189h1v1h-1zM391 183h1v1h-1zM391 184h1v1h-1zM391 185h1v1h-1zM391 186h1v1h-1zM392 187h1v1h-1zM392 188h1v1h-1zM392 189h1v1h-1zM393 189h1v1h-1zM393 190h1v1h-1zM393 191h1v1h-1zM394 190h1v1h-1zM394 191h1v1h-1zM394 192h1v1h-1zM395 191h1v1h-1zM395 192h1v1h-1zM396 190h1v1h-1zM396 191h1v1h-1zM397 190h1v1h-1zM397 191h1v1h-1zM398 190h1v1h-1zM398 191h1v1h-1zM399 190h1v1h-1zM399 191h1v1h-1zM400 191h1v1h-1zM400 192h1v1h-1zM401 192h1v1h-1zM402 192h1v1h-1zM402 193h1v1h-1zM403 192h1v1h-1zM403 193h1v1h-1zM404 192h1v1h-1zM404 193h1v1h-1zM405 192h1v1h-1zM405 193h1v1h-1zM406 192h1v1h-1zM406 193h1v1h-1zM407 191h1v1h-1zM407 192h1v1h-1zM407 193h1v1h-1zM408 187h1v1h-1zM408 188h1v1h-1zM408 189h1v1h-1zM408 190h1v1h-1zM408 191h1v1h-1zM409 183h1v1h-1zM409 184h1v1h-1zM409 185h1v1h-1zM409 186h1v1h-1zM410 183h1v1h-1zM410 184h1v1h-1zM410 185h1v1h-1zM410 186h1v1h-1zM410 187h1v1h-1zM411 187h1v1h-1zM411 188h1v1h-1zM411 189h1v1h-1zM411 190h1v1h-1zM412 191h1v1h-1zM412 192h1v1h-1zM413 193h1v1h-1zM413 194h1v1h-1zM414 193h1v1h-1zM414 194h1v1h-1zM415 193h1v1h-1zM415 194h1v1h-1zM416 193h1v1h-1zM416 194h1v1h-1zM417 193h1v1h-1zM417 194h1v1h-1zM417 195h1v1h-1zM418 193h1v1h-1zM418 194h1v1h-1zM419 193h1v1h-1zM419 194h1v1h-1zM420 192h1v1h-1zM420 193h1v1h-1zM420 194h1v1h-1zM421 188h1v1h-1zM421 189h1v1h-1zM421 190h1v1h-1zM421 191h1v1h-1zM422 186h1v1h-1zM422 187h1v1h-1zM423 185h1v1h-1zM423 186h1v1h-1zM424 183h1v1h-1zM424 184h1v1h-1zM425 182h1v1h-1zM425 183h1v1h-1zM426 182h1v1h-1zM426 183h1v1h-1zM427 182h1v1h-1zM427 183h1v1h-1zM428 184h1v1h-1zM429 184h1v1h-1zM429 185h1v1h-1zM429 186h1v1h-1zM430 185h1v1h-1zM430 186h1v1h-1zM430 187h1v1h-1zM431 186h1v1h-1zM431 187h1v1h-1zM431 188h1v1h-1zM432 188h1v1h-1zM432 189h1v1h-1zM433 188h1v1h-1zM433 189h1v1h-1zM434 189h1v1h-1zM435 188h1v1h-1zM435 189h1v1h-1zM436 189h1v1h-1zM436 190h1v1h-1zM437 189h1v1h-1zM437 190h1v1h-1zM438 189h1v1h-1zM438 190h1v1h-1zM439 189h1v1h-1zM439 190h1v1h-1zM440 189h1v1h-1zM440 190h1v1h-1zM440 191h1v1h-1zM441 189h1v1h-1zM441 190h1v1h-1zM442 189h1v1h-1zM442 190h1v1h-1zM443 188h1v1h-1zM443 189h1v1h-1zM443 190h1v1h-1zM444 187h1v1h-1zM444 188h1v1h-1zM445 187h1v1h-1zM445 188h1v1h-1zM446 187h1v1h-1zM446 188h1v1h-1zM447 187h1v1h-1zM447 188h1v1h-1zM448 188h1v1h-1zM448 189h1v1h-1zM449 188h1v1h-1zM449 189h1v1h-1zM450 188h1v1h-1zM450 189h1v1h-1zM451 187h1v1h-1zM451 188h1v1h-1zM451 189h1v1h-1zM452 188h1v1h-1zM453 187h1v1h-1zM453 188h1v1h-1zM454 187h1v1h-1zM455 186h1v1h-1zM455 187h1v1h-1zM456 182h1v1h-1zM456 186h1v1h-1zM456 187h1v1h-1zM457 186h1v1h-1zM457 187h1v1h-1zM458 186h1v1h-1zM458 187h1v1h-1zM459 186h1v1h-1zM459 187h1v1h-1zM460 186h1v1h-1zM460 187h1v1h-1zM461 186h1v1h-1zM461 187h1v1h-1zM461 188h1v1h-1zM462 187h1v1h-1zM462 188h1v1h-1zM463 187h1v1h-1zM463 188h1v1h-1zM464 188h1v1h-1zM464 189h1v1h-1zM464 190h1v1h-1zM465 189h1v1h-1zM465 190h1v1h-1zM466 189h1v1h-1zM466 190h1v1h-1zM466 191h1v1h-1zM467 190h1v1h-1zM468 190h1v1h-1zM468 191h1v1h-1zM469 190h1v1h-1zM469 191h1v1h-1zM470 191h1v1h-1zM470 192h1v1h-1zM471 191h1v1h-1zM471 192h1v1h-1zM471 193h1v1h-1zM472 192h1v1h-1zM472 193h1v1h-1zM473 193h1v1h-1zM473 194h1v1h-1zM474 194h1v1h-1zM474 195h1v1h-1zM475 194h1v1h-1zM475 195h1v1h-1zM476 194h1v1h-1zM476 195h1v1h-1zM476 196h1v1h-1zM477 195h1v1h-1zM477 196h1v1h-1zM478 195h1v1h-1zM478 196h1v1h-1zM479 195h1v1h-1zM479 196h1v1h-1zM480 191h1v1h-1zM480 194h1v1h-1zM480 195h1v1h-1zM480 196h1v1h-1zM481 192h1v1h-1zM481 193h1v1h-1zM481 194h1v1h-1zM482 190h1v1h-1zM482 191h1v1h-1zM482 192h1v1h-1zM482 193h1v1h-1zM483 185h1v1h-1zM483 186h1v1h-1zM483 187h1v1h-1zM483 188h1v1h-1zM483 189h1v1h-1zM484 185h1v1h-1zM484 186h1v1h-1zM484 187h1v1h-1zM484 188h1v1h-1zM485 188h1v1h-1zM485 189h1v1h-1zM485 190h1v1h-1zM486 189h1v1h-1zM486 190h1v1h-1zM487 190h1v1h-1zM487 191h1v1h-1zM488 189h1v1h-1zM488 190h1v1h-1zM488 191h1v1h-1zM489 189h1v1h-1zM489 190h1v1h-1zM490 187h1v1h-1zM490 188h1v1h-1zM490 189h1v1h-1zM491 187h1v1h-1zM491 188h1v1h-1zM491 189h1v1h-1zM492 188h1v1h-1zM492 189h1v1h-1zM492 190h1v1h-1zM492 192h1v1h-1zM493 189h1v1h-1zM493 190h1v1h-1zM494 190h1v1h-1zM494 191h1v1h-1zM495 190h1v1h-1zM495 191h1v1h-1zM496 185h1v1h-1zM496 186h1v1h-1zM496 188h1v1h-1zM496 190h1v1h-1zM497 177h1v1h-1zM497 180h1v1h-1zM497 181h1v1h-1zM497 182h1v1h-1zM497 183h1v1h-1zM498 183h1v1h-1zM498 184h1v1h-1zM498 185h1v1h-1zM499 185h1v1h-1zM499 186h1v1h-1zM499 187h1v1h-1zM500 186h1v1h-1zM500 187h1v1h-1zM500 188h1v1h-1zM501 186h1v1h-1zM501 187h1v1h-1zM501 188h1v1h-1zM502 188h1v1h-1zM502 189h1v1h-1zM503 188h1v1h-1zM503 189h1v1h-1zM503 190h1v1h-1zM504 190h1v1h-1zM504 191h1v1h-1zM505 190h1v1h-1zM505 191h1v1h-1zM506 191h1v1h-1zM507 189h1v1h-1zM507 190h1v1h-1zM507 191h1v1h-1zM508 190h1v1h-1zM508 191h1v1h-1zM509 190h1v1h-1zM509 191h1v1h-1zM510 190h1v1h-1zM510 191h1v1h-1zM511 190h1v1h-1zM511 191h1v1h-1zM511 192h1v1h-1zM512 191h1v1h-1zM512 192h1v1h-1zM513 192h1v1h-1zM513 193h1v1h-1zM514 192h1v1h-1zM514 193h1v1h-1zM515 192h1v1h-1zM515 193h1v1h-1zM516 190h1v1h-1zM516 192h1v1h-1zM517 192h1v1h-1zM517 193h1v1h-1zM518 192h1v1h-1zM518 193h1v1h-1zM519 191h1v1h-1zM519 192h1v1h-1zM520 188h1v1h-1zM520 189h1v1h-1zM520 190h1v1h-1zM520 191h1v1h-1zM521 185h1v1h-1zM521 186h1v1h-1zM521 187h1v1h-1zM522 184h1v1h-1zM522 185h1v1h-1zM523 182h1v1h-1zM523 183h1v1h-1zM523 184h1v1h-1zM524 182h1v1h-1zM525 181h1v1h-1zM525 182h1v1h-1zM525 183h1v1h-1zM526 183h1v1h-1zM526 184h1v1h-1zM527 183h1v1h-1zM527 184h1v1h-1zM527 185h1v1h-1zM528 184h1v1h-1zM528 185h1v1h-1zM528 186h1v1h-1zM529 186h1v1h-1zM529 187h1v1h-1zM530 185h1v1h-1zM530 186h1v1h-1zM530 187h1v1h-1zM531 184h1v1h-1zM531 185h1v1h-1zM532 184h1v1h-1zM532 185h1v1h-1zM533 185h1v1h-1zM533 186h1v1h-1zM534 182h1v1h-1zM534 184h1v1h-1zM534 186h1v1h-1zM534 187h1v1h-1zM535 187h1v1h-1zM535 188h1v1h-1zM536 188h1v1h-1zM536 189h1v1h-1zM537 189h1v1h-1zM537 190h1v1h-1zM538 189h1v1h-1zM538 190h1v1h-1zM539 187h1v1h-1zM539 189h1v1h-1zM539 190h1v1h-1zM540 189h1v1h-1zM541 189h1v1h-1zM541 190h1v1h-1zM542 187h1v1h-1zM542 188h1v1h-1zM542 189h1v1h-1zM543 188h1v1h-1zM543 189h1v1h-1zM544 188h1v1h-1zM544 189h1v1h-1zM545 188h1v1h-1zM545 189h1v1h-1zM546 188h1v1h-1zM546 189h1v1h-1zM547 188h1v1h-1zM547 189h1v1h-1zM547 190h1v1h-1zM548 189h1v1h-1zM548 190h1v1h-1zM549 189h1v1h-1zM549 190h1v1h-1zM550 186h1v1h-1zM550 189h1v1h-1zM550 190h1v1h-1zM551 188h1v1h-1zM551 189h1v1h-1zM552 188h1v1h-1zM552 189h1v1h-1zM553 187h1v1h-1zM553 188h1v1h-1zM554 186h1v1h-1zM554 187h1v1h-1zM555 186h1v1h-1zM556 185h1v1h-1zM556 186h1v1h-1zM557 185h1v1h-1zM557 186h1v1h-1zM558 185h1v1h-1zM558 186h1v1h-1zM559 184h1v1h-1zM559 185h1v1h-1zM560 184h1v1h-1zM560 185h1v1h-1zM561 184h1v1h-1zM561 185h1v1h-1zM562 184h1v1h-1zM562 185h1v1h-1zM563 185h1v1h-1zM564 176h1v1h-1zM564 177h1v1h-1zM564 178h1v1h-1zM564 181h1v1h-1zM564 182h1v1h-1zM564 184h1v1h-1zM564 185h1v1h-1zM564 186h1v1h-1zM565 174h1v1h-1zM565 175h1v1h-1zM565 176h1v1h-1zM565 177h1v1h-1zM566 171h1v1h-1zM566 172h1v1h-1zM566 173h1v1h-1zM566 174h1v1h-1zM566 175h1v1h-1zM567 169h1v1h-1zM567 170h1v1h-1zM567 171h1v1h-1zM567 172h1v1h-1zM568 163h1v1h-1zM568 164h1v1h-1zM568 165h1v1h-1zM568 166h1v1h-1zM568 167h1v1h-1zM568 168h1v1h-1zM569 151h1v1h-1zM569 152h1v1h-1zM569 153h1v1h-1zM569 154h1v1h-1zM569 156h1v1h-1zM569 157h1v1h-1zM569 158h1v1h-1zM569 161h1v1h-1zM569 163h1v1h-1zM570 153h1v1h-1zM570 154h1v1h-1zM570 155h1v1h-1zM570 156h1v1h-1zM570 157h1v1h-1zM571 159h1v1h-1zM571 160h1v1h-1zM571 162h1v1h-1zM571 164h1v1h-1zM571 166h1v1h-1zM572 167h1v1h-1zM572 168h1v1h-1zM572 169h1v1h-1zM572 170h1v1h-1zM572 172h1v1h-1zM573 171h1v1h-1zM573 172h1v1h-1zM573 173h1v1h-1zM573 174h1v1h-1zM573 175h1v1h-1zM573 176h1v1h-1zM574 176h1v1h-1zM574 177h1v1h-1zM574 178h1v1h-1zM575 178h1v1h-1zM575 179h1v1h-1zM575 180h1v1h-1zM576 177h1v1h-1zM576 180h1v1h-1zM576 181h1v1h-1zM576 182h1v1h-1zM577 182h1v1h-1zM577 183h1v1h-1zM577 184h1v1h-1zM578 183h1v1h-1zM578 184h1v1h-1zM578 185h1v1h-1zM579 184h1v1h-1zM579 185h1v1h-1zM579 186h1v1h-1zM580 185h1v1h-1zM580 186h1v1h-1zM580 187h1v1h-1zM581 186h1v1h-1zM582 186h1v1h-1zM582 187h1v1h-1zM583 187h1v1h-1zM583 188h1v1h-1zM584 188h1v1h-1zM584 189h1v1h-1zM585 189h1v1h-1zM585 190h1v1h-1zM586 190h1v1h-1zM586 191h1v1h-1zM587 189h1v1h-1zM587 190h1v1h-1zM588 189h1v1h-1zM588 190h1v1h-1zM589 189h1v1h-1zM589 190h1v1h-1zM590 189h1v1h-1zM590 190h1v1h-1zM591 189h1v1h-1zM591 190h1v1h-1zM592 189h1v1h-1zM592 190h1v1h-1zM593 188h1v1h-1zM593 189h1v1h-1zM593 190h1v1h-1zM594 188h1v1h-1zM594 189h1v1h-1zM595 188h1v1h-1zM595 189h1v1h-1zM596 189h1v1h-1zM596 190h1v1h-1zM597 189h1v1h-1zM597 190h1v1h-1zM597 191h1v1h-1zM598 190h1v1h-1zM598 191h1v1h-1zM598 192h1v1h-1zM599 191h1v1h-1zM599 192h1v1h-1zM599 193h1v1h-1zM600 191h1v1h-1zM600 192h1v1h-1zM601 191h1v1h-1zM601 192h1v1h-1zM602 191h1v1h-1zM602 192h1v1h-1zM603 191h1v1h-1zM603 192h1v1h-1zM604 191h1v1h-1zM604 192h1v1h-1zM605 191h1v1h-1zM606 185h1v1h-1zM606 187h1v1h-1zM606 188h1v1h-1zM606 189h1v1h-1zM606 190h1v1h-1zM606 191h1v1h-1zM607 182h1v1h-1zM607 183h1v1h-1zM607 184h1v1h-1zM608 180h1v1h-1zM608 181h1v1h-1zM608 182h1v1h-1zM609 183h1v1h-1zM609 184h1v1h-1zM609 185h1v1h-1zM609 186h1v1h-1zM610 186h1v1h-1zM610 187h1v1h-1zM610 188h1v1h-1zM610 189h1v1h-1zM611 189h1v1h-1zM611 190h1v1h-1zM611 191h1v1h-1zM612 191h1v1h-1zM612 192h1v1h-1zM612 193h1v1h-1zM613 192h1v1h-1zM613 193h1v1h-1zM614 192h1v1h-1zM614 193h1v1h-1zM615 192h1v1h-1zM615 193h1v1h-1zM616 192h1v1h-1zM616 193h1v1h-1zM617 191h1v1h-1zM617 192h1v1h-1zM617 193h1v1h-1zM618 191h1v1h-1zM618 192h1v1h-1zM619 191h1v1h-1zM619 192h1v1h-1zM619 193h1v1h-1zM620 192h1v1h-1zM620 193h1v1h-1zM621 192h1v1h-1zM621 193h1v1h-1zM622 192h1v1h-1zM622 193h1v1h-1zM623 193h1v1h-1zM623 194h1v1h-1zM624 189h1v1h-1zM624 193h1v1h-1zM624 194h1v1h-1zM625 193h1v1h-1zM625 194h1v1h-1zM626 193h1v1h-1zM626 194h1v1h-1zM627 193h1v1h-1zM627 194h1v1h-1zM628 192h1v1h-1zM628 193h1v1h-1zM629 189h1v1h-1zM629 190h1v1h-1zM629 192h1v1h-1zM629 193h1v1h-1zM630 193h1v1h-1zM631 193h1v1h-1zM631 194h1v1h-1zM632 193h1v1h-1zM632 194h1v1h-1zM633 193h1v1h-1zM633 194h1v1h-1zM634 193h1v1h-1zM634 194h1v1h-1zM635 193h1v1h-1zM635 194h1v1h-1zM636 191h1v1h-1zM636 193h1v1h-1zM636 194h1v1h-1zM637 194h1v1h-1z" fill="#0000ff"/>
<path d="M52 381h1v1h-1zM52 382h1v1h-1zM52 384h1v1h-1zM52 385h1v1h-1zM53 382h1v1h-1zM53 385h1v1h-1zM53 386h1v1h-1zM53 387h1v1h-1zM53 388h1v1h-1zM53 389h1v1h-1zM54 390h1v1h-1zM54 391h1v1h-1zM54 393h1v1h-1zM55 393h1v1h-1zM55 394h1v1h-1zM55 395h1v1h-1zM55 396h1v1h-1zM56 396h1v1h-1zM56 397h1v1h-1zM56 398h1v1h-1zM56 399h1v1h-1zM56 400h1v1h-1zM57 399h1v1h-1zM57 400h1v1h-1zM57 401h1v1h-1zM57 402h1v1h-1zM58 402h1v1h-1zM58 403h1v1h-1zM58 404h1v1h-1zM59 404h1v1h-1zM59 405h1v1h-1zM59 406h1v1h-1zM60 406h1v1h-1zM60 407h1v1h-1zM60 408h1v1h-1zM61 406h1v1h-1zM61 407h1v1h-1zM62 407h1v1h-1zM62 408h1v1h-1zM63 408h1v1h-1zM63 409h1v1h-1zM64 408h1v1h-1zM64 409h1v1h-1zM64 410h1v1h-1zM65 408h1v1h-1zM65 409h1v1h-1zM65 410h1v1h-1zM66 408h1v1h-1zM66 409h1v1h-1zM66 410h1v1h-1zM67 407h1v1h-1zM67 408h1v1h-1zM68 406h1v1h-1zM68 407h1v1h-1zM68 408h1v1h-1zM69 406h1v1h-1zM69 407h1v1h-1zM70 406h1v1h-1zM70 407h1v1h-1zM71 406h1v1h-1zM71 407h1v1h-1zM72 407h1v1h-1zM72 408h1v1h-1zM73 407h1v1h-1zM73 408h1v1h-1zM74 408h1v1h-1zM74 409h1v1h-1zM75 408h1v1h-1zM75 409h1v1h-1zM76 406h1v1h-1zM76 407h1v1h-1zM76 408h1v1h-1zM76 409h1v1h-1zM77 405h1v1h-1zM77 406h1v1h-1zM78 405h1v1h-1zM78 406h1v1h-1zM79 405h1v1h-1zM79 406h1v1h-1zM80 401h1v1h-1zM80 403h1v1h-1zM80 405h1v1h-1zM80 406h1v1h-1zM81 405h1v1h-1zM81 406h1v1h-1zM82 405h1v1h-1zM82 406h1v1h-1zM83 404h1v1h-1zM83 405h1v1h-1zM83 406h1v1h-1zM84 402h1v1h-1zM84 403h1v1h-1zM84 404h1v1h-1zM85 398h1v1h-1zM85 401h1v1h-1zM85 402h1v1h-1zM86 398h1v1h-1zM86 399h1v1h-1zM86 400h1v1h-1zM86 401h1v1h-1zM87 396h1v1h-1zM87 397h1v1h-1zM87 398h1v1h-1zM88 395h1v1h-1zM88 396h1v1h-1zM89 394h1v1h-1zM89 395h1v1h-1zM89 396h1v1h-1zM90 394h1v1h-1zM90 395h1v1h-1zM90 396h1v1h-1zM91 393h1v1h-1zM91 394h1v1h-1zM91 395h1v1h-1zM92 389h1v1h-1zM92 390h1v1h-1zM92 393h1v1h-1zM92 394h1v1h-1zM93 392h1v1h-1zM93 393h1v1h-1zM93 394h1v1h-1zM94 392h1v1h-1zM94 393h1v1h-1zM95 392h1v1h-1zM95 393h1v1h-1zM96 392h1v1h-1zM96 393h1v1h-1zM97 392h1v1h-1zM97 393h1v1h-1zM97 394h1v1h-1zM98 392h1v1h-1zM98 393h1v1h-1zM98 394h1v1h-1zM99 393h1v1h-1zM99 394h1v1h-1zM100 393h1v1h-1zM100 394h1v1h-1zM100 395h1v1h-1zM101 394h1v1h-1zM102 389h1v1h-1zM102 393h1v1h-1zM102 394h1v1h-1zM103 390h1v1h-1zM103 391h1v1h-1zM103 392h1v1h-1zM103 393h1v1h-1zM104 388h1v1h-1zM104 389h1v1h-1zM104 390h1v1h-1zM105 388h1v1h-1zM105 389h1v1h-1zM106 388h1v1h-1zM106 389h1v1h-1zM107 388h1v1h-1zM107 389h1v1h-1zM108 385h1v1h-1zM108 386h1v1h-1zM108 389h1v1h-1zM108 390h1v1h-1zM109 388h1v1h-1zM109 389h1v1h-1zM109 390h1v1h-1zM110 389h1v1h-1zM110 390h1v1h-1zM111 389h1v1h-1zM111 390h1v1h-1zM111 391h1v1h-1zM112 391h1v1h-1zM112 392h1v1h-1zM113 392h1v1h-1zM113 393h1v1h-1zM114 391h1v1h-1zM114 392h1v1h-1zM114 393h1v1h-1zM115 390h1v1h-1zM115 391h1v1h-1zM115 392h1v1h-1zM116 388h1v1h-1zM116 389h1v1h-1zM116 390h1v1h-1zM116 391h1v1h-1zM117 388h1v1h-1zM117 389h1v1h-1zM117 390h1v1h-1zM118 387h1v1h-1zM118 388h1v1h-1zM118 389h1v1h-1zM119 386h1v1h-1zM119 387h1v1h-1zM120 385h1v1h-1zM120 386h1v1h-1zM120 387h1v1h-1zM121 386h1v1h-1zM121 387h1v1h-1zM121 388h1v1h-1zM122 386h1v1h-1zM122 387h1v1h-1zM122 388h1v1h-1zM123 389h1v1h-1zM123 390h1v1h-1zM123 391h1v1h-1zM123 392h1v1h-1zM124 390h1v1h-1zM124 391h1v1h-1zM124 392h1v1h-1zM124 393h1v1h-1zM125 392h1v1h-1zM125 393h1v1h-1zM126 392h1v1h-1zM127 390h1v1h-1zM127 391h1v1h-1zM128 387h1v1h-1zM128 389h1v1h-1zM128 390h1v1h-1zM129 388h1v1h-1zM129 389h1v1h-1zM130 388h1v1h-1zM130 389h1v1h-1zM130 390h1v1h-1zM131 389h1v1h-1zM131 390h1v1h-1zM131 391h1v1h-1zM132 390h1v1h-1zM132 391h1v1h-1zM133 392h1v1h-1zM133 393h1v1h-1zM134 393h1v1h-1zM134 394h1v1h-1zM134 395h1v1h-1zM135 395h1v1h-1zM135 396h1v1h-1zM135 397h1v1h-1zM136 397h1v1h-1zM136 398h1v1h-1zM137 396h1v1h-1zM137 397h1v1h-1zM137 398h1v1h-1zM138 396h1v1h-1zM138 397h1v1h-1zM139 395h1v1h-1zM139 396h1v1h-1zM140 395h1v1h-1zM140 396h1v1h-1zM141 395h1v1h-1zM141 396h1v1h-1zM142 395h1v1h-1zM143 394h1v1h-1zM143 395h1v1h-1zM143 396h1v1h-1zM144 394h1v1h-1zM144 395h1v1h-1zM145 389h1v1h-1zM145 390h1v1h-1zM145 391h1v1h-1zM145 392h1v1h-1zM145 393h1v1h-1zM146 389h1v1h-1zM146 390h1v1h-1zM146 391h1v1h-1zM147 390h1v1h-1zM147 391h1v1h-1zM148 388h1v1h-1zM148 391h1v1h-1zM148 392h1v1h-1zM149 392h1v1h-1zM149 393h1v1h-1zM149 394h1v1h-1zM150 393h1v1h-1zM150 394h1v1h-1zM151 392h1v1h-1zM151 393h1v1h-1zM151 394h1v1h-1zM151 395h1v1h-1zM152 393h1v1h-1zM152 394h1v1h-1zM153 392h1v1h-1zM153 393h1v1h-1zM154 386h1v1h-1zM154 390h1v1h-1zM154 391h1v1h-1zM154 392h1v1h-1zM155 388h1v1h-1zM155 389h1v1h-1zM155 390h1v1h-1zM156 386h1v1h-1zM156 387h1v1h-1zM156 388h1v1h-1zM157 387h1v1h-1zM157 388h1v1h-1zM157 389h1v1h-1zM158 389h1v1h-1zM158 390h1v1h-1zM158 391h1v1h-1zM159 390h1v1h-1zM159 391h1v1h-1zM159 392h1v1h-1zM159 393h1v1h-1zM160 392h1v1h-1zM160 393h1v1h-1zM160 394h1v1h-1zM161 391h1v1h-1zM161 393h1v1h-1zM161 394h1v1h-1zM161 395h1v1h-1zM161 396h1v1h-1zM162 396h1v1h-1zM162 397h1v1h-1zM163 392h1v1h-1zM163 395h1v1h-1zM163 396h1v1h-1zM164 393h1v1h-1zM164 394h1v1h-1zM164 395h1v1h-1zM164 396h1v1h-1zM165 395h1v1h-1zM165 396h1v1h-1zM166 394h1v1h-1zM166 395h1v1h-1zM166 396h1v1h-1zM167 394h1v1h-1zM167 395h1v1h-1zM167 396h1v1h-1zM168 395h1v1h-1zM168 396h1v1h-1zM169 396h1v1h-1zM169 397h1v1h-1zM170 396h1v1h-1zM170 397h1v1h-1zM171 396h1v1h-1zM171 397h1v1h-1zM171 398h1v1h-1zM172 396h1v1h-1zM172 397h1v1h-1zM173 396h1v1h-1zM173 397h1v1h-1zM173 398h1v1h-1zM174 395h1v1h-1zM174 396h1v1h-1zM174 397h1v1h-1zM175 393h1v1h-1zM175 394h1v1h-1zM175 395h1v1h-1zM176 392h1v1h-1zM176 393h1v1h-1zM176 394h1v1h-1zM177 392h1v1h-1zM177 393h1v1h-1zM177 394h1v1h-1zM178 391h1v1h-1zM178 393h1v1h-1zM178 394h1v1h-1zM179 392h1v1h-1zM179 393h1v1h-1zM179 394h1v1h-1zM180 392h1v1h-1zM180 393h1v1h-1zM180 394h1v1h-1zM181 393h1v1h-1zM181 394h1v1h-1zM182 394h1v1h-1zM182 395h1v1h-1zM183 395h1v1h-1zM183 396h1v1h-1zM184 395h1v1h-1zM184 396h1v1h-1zM185 395h1v1h-1zM185 396h1v1h-1zM186 394h1v1h-1zM186 395h1v1h-1zM186 396h1v1h-1zM187 393h1v1h-1zM187 394h1v1h-1zM187 395h1v1h-1zM188 390h1v1h-1zM188 391h1v1h-1zM188 392h1v1h-1zM188 393h1v1h-1zM188 394h1v1h-1zM189 389h1v1h-1zM189 391h1v1h-1zM189 392h1v1h-1zM190 387h1v1h-1zM190 388h1v1h-1zM190 389h1v1h-1zM191 384h1v1h-1zM191 385h1v1h-1zM191 386h1v1h-1zM192 383h1v1h-1zM192 384h1v1h-1zM192 385h1v1h-1zM193 385h1v1h-1zM193 386h1v1h-1zM193 387h1v1h-1zM194 385h1v1h-1zM194 386h1v1h-1zM194 387h1v1h-1zM194 388h1v1h-1zM195 383h1v1h-1zM195 384h1v1h-1zM195 385h1v1h-1zM196 379h1v1h-1zM196 380h1v1h-1zM196 381h1v1h-1zM196 382h1v1h-1zM197 379h1v1h-1zM198 374h1v1h-1zM198 377h1v1h-1zM198 378h1v1h-1zM198 379h1v1h-1zM199 375h1v1h-1zM199 376h1v1h-1zM199 377h1v1h-1zM200 374h1v1h-1zM200 375h1v1h-1zM200 376h1v1h-1zM201 371h1v1h-1zM201 372h1v1h-1zM201 373h1v1h-1zM201 374h1v1h-1zM202 370h1v1h-1zM202 371h1v1h-1zM202 372h1v1h-1zM203 369h1v1h-1zM203 370h1v1h-1zM203 371h1v1h-1zM204 366h1v1h-1zM204 367h1v1h-1zM204 368h1v1h-1zM204 369h1v1h-1zM205 362h1v1h-1zM205 364h1v1h-1zM205 365h1v1h-1zM205 366h1v1h-1zM206 350h1v1h-1zM206 352h1v1h-1zM206 354h1v1h-1zM206 355h1v1h-1zM206 357h1v1h-1zM206 358h1v1h-1zM206 361h1v1h-1zM207 346h1v1h-1zM207 347h1v1h-1zM207 348h1v1h-1zM207 349h1v1h-1zM207 350h1v1h-1zM208 350h1v1h-1zM208 351h1v1h-1zM208 352h1v1h-1zM208 353h1v1h-1zM208 354h1v1h-1zM208 355h1v1h-1zM209 355h1v1h-1zM209 356h1v1h-1zM209 358h1v1h-1zM209 360h1v1h-1zM209 362h1v1h-1zM209 364h1v1h-1zM209 365h1v1h-1zM209 366h1v1h-1zM209 367h1v1h-1zM209 369h1v1h-1zM210 370h1v1h-1zM210 371h1v1h-1zM210 372h1v1h-1zM211 372h1v1h-1zM211 373h1v1h-1zM211 374h1v1h-1zM211 375h1v1h-1zM211 376h1v1h-1zM212 376h1v1h-1zM212 377h1v1h-1zM212 378h1v1h-1zM212 379h1v1h-1zM213 380h1v1h-1zM216 328h1v1h-1zM216 330h1v1h-1zM217 329h1v1h-1zM217 330h1v1h-1zM218 330h1v1h-1zM218 331h1v1h-1zM218 333h1v1h-1zM218 335h1v1h-1zM218 337h1v1h-1zM219 340h1v1h-1zM219 341h1v1h-1zM219 344h1v1h-1zM219 345h1v1h-1zM219 346h1v1h-1zM220 347h1v1h-1zM220 348h1v1h-1zM220 349h1v1h-1zM220 350h1v1h-1zM220 351h1v1h-1zM220 352h1v1h-1zM220 353h1v1h-1zM221 354h1v1h-1zM221 355h1v1h-1zM221 356h1v1h-1zM221 357h1v1h-1zM222 356h1v1h-1zM222 357h1v1h-1zM222 358h1v1h-1zM222 360h1v1h-1zM223 362h1v1h-1zM223 363h1v1h-1zM223 365h1v1h-1zM223 368h1v1h-1zM223 369h1v1h-1zM223 371h1v1h-1zM223 373h1v1h-1zM223 375h1v1h-1zM223 376h1v1h-1zM224 373h1v1h-1zM224 376h1v1h-1zM224 377h1v1h-1zM225 376h1v1h-1zM225 377h1v1h-1zM225 379h1v1h-1zM225 382h1v1h-1zM225 384h1v1h-1zM225 387h1v1h-1zM225 389h1v1h-1zM225 390h1v1h-1zM226 389h1v1h-1zM226 390h1v1h-1zM227 389h1v1h-1zM227 390h1v1h-1zM228 390h1v1h-1zM228 391h1v1h-1zM228 392h1v1h-1zM229 391h1v1h-1zM229 392h1v1h-1zM229 393h1v1h-1zM230 393h1v1h-1zM230 394h1v1h-1zM231 394h1v1h-1zM231 395h1v1h-1zM231 396h1v1h-1zM232 394h1v1h-1zM232 395h1v1h-1zM232 396h1v1h-1zM233 395h1v1h-1zM233 396h1v1h-1zM233 397h1v1h-1zM234 396h1v1h-1zM234 397h1v1h-1zM234 398h1v1h-1zM235 398h1v1h-1zM235 399h1v1h-1zM236 399h1v1h-1zM236 400h1v1h-1zM236 401h1v1h-1zM237 401h1v1h-1zM237 402h1v1h-1zM237 403h1v1h-1zM238 402h1v1h-1zM238 403h1v1h-1zM238 404h1v1h-1zM239 404h1v1h-1zM239 405h1v1h-1zM240 402h1v1h-1zM240 404h1v1h-1zM240 405h1v1h-1zM241 404h1v1h-1zM241 405h1v1h-1zM242 404h1v1h-1zM242 405h1v1h-1zM243 402h1v1h-1zM243 404h1v1h-1zM243 405h1v1h-1zM244 404h1v1h-1zM245 402h1v1h-1zM245 403h1v1h-1zM245 404h1v1h-1zM245 405h1v1h-1zM246 403h1v1h-1zM246 404h1v1h-1zM246 405h1v1h-1zM247 401h1v1h-1zM247 404h1v1h-1zM247 405h1v1h-1zM248 405h1v1h-1zM248 406h1v1h-1zM248 407h1v1h-1zM249 402h1v1h-1zM249 405h1v1h-1zM249 406h1v1h-1zM249 407h1v1h-1zM250 406h1v1h-1zM251 405h1v1h-1zM251 406h1v1h-1zM252 404h1v1h-1zM252 405h1v1h-1zM253 404h1v1h-1zM253 405h1v1h-1zM253 406h1v1h-1zM253 407h1v1h-1zM254 406h1v1h-1zM254 407h1v1h-1zM254 408h1v1h-1zM255 407h1v1h-1zM255 408h1v1h-1zM255 409h1v1h-1zM256 402h1v1h-1zM256 406h1v1h-1zM256 407h1v1h-1zM256 408h1v1h-1zM257 404h1v1h-1zM257 405h1v1h-1zM257 406h1v1h-1zM258 402h1v1h-1zM258 403h1v1h-1zM258 404h1v1h-1zM259 401h1v1h-1zM259 402h1v1h-1zM260 401h1v1h-1zM260 402h1v1h-1zM261 401h1v1h-1zM261 402h1v1h-1zM261 403h1v1h-1zM262 403h1v1h-1zM262 404h1v1h-1zM262 405h1v1h-1zM263 403h1v1h-1zM263 405h1v1h-1zM263 406h1v1h-1zM264 406h1v1h-1zM264 407h1v1h-1zM264 408h1v1h-1zM265 407h1v1h-1zM265 408h1v1h-1zM266 408h1v1h-1zM266 409h1v1h-1zM266 410h1v1h-1zM267 409h1v1h-1zM267 410h1v1h-1zM267 411h1v1h-1zM268 411h1v1h-1zM268 412h1v1h-1zM268 413h1v1h-1zM269 412h1v1h-1zM269 413h1v1h-1zM270 412h1v1h-1zM271 411h1v1h-1zM271 412h1v1h-1zM271 413h1v1h-1zM272 411h1v1h-1zM272 412h1v1h-1zM272 413h1v1h-1zM273 412h1v1h-1zM273 413h1v1h-1zM274 409h1v1h-1zM274 412h1v1h-1zM274 413h1v1h-1zM274 414h1v1h-1zM275 412h1v1h-1zM275 413h1v1h-1zM275 414h1v1h-1zM276 412h1v1h-1zM276 413h1v1h-1zM277 411h1v1h-1zM277 412h1v1h-1zM278 412h1v1h-1zM279 412h1v1h-1zM279 413h1v1h-1zM280 412h1v1h-1zM280 413h1v1h-1zM281 412h1v1h-1zM281 413h1v1h-1zM282 412h1v1h-1zM282 413h1v1h-1zM283 412h1v1h-1zM283 413h1v1h-1zM284 412h1v1h-1zM284 413h1v1h-1zM285 411h1v1h-1zM285 412h1v1h-1zM286 409h1v1h-1zM286 410h1v1h-1zM286 411h1v1h-1zM287 409h1v1h-1zM287 410h1v1h-1zM288 405h1v1h-1zM288 406h1v1h-1zM288 407h1v1h-1zM288 408h1v1h-1zM289 401h1v1h-1zM289 402h1v1h-1zM289 404h1v1h-1zM289 405h1v1h-1zM290 399h1v1h-1zM290 400h1v1h-1zM290 401h1v1h-1zM291 397h1v1h-1zM291 398h1v1h-1zM291 399h1v1h-1zM292 394h1v1h-1zM292 395h1v1h-1zM292 396h1v1h-1zM292 397h1v1h-1zM293 390h1v1h-1zM293 393h1v1h-1zM293 394h1v1h-1zM294 391h1v1h-1zM294 392h1v1h-1zM294 393h1v1h-1zM295 390h1v1h-1zM295 391h1v1h-1zM296 390h1v1h-1zM296 391h1v1h-1zM297 392h1v1h-1zM297 393h1v1h-1zM298 394h1v1h-1zM298 395h1v1h-1zM298 396h1v1h-1zM299 397h1v1h-1zM299 399h1v1h-1zM299 400h1v1h-1zM300 400h1v1h-1zM300 401h1v1h-1zM300 402h1v1h-1zM301 402h1v1h-1zM301 403h1v1h-1zM301 404h1v1h-1zM302 404h1v1h-1zM302 405h1v1h-1zM303 403h1v1h-1zM303 405h1v1h-1zM303 406h1v1h-1zM304 404h1v1h-1zM304 405h1v1h-1zM304 406h1v1h-1zM305 404h1v1h-1zM305 405h1v1h-1zM305 406h1v1h-1zM306 405h1v1h-1zM306 406h1v1h-1zM306 407h1v1h-1zM307 406h1v1h-1zM307 407h1v1h-1zM307 408h1v1h-1zM308 407h1v1h-1zM308 408h1v1h-1zM308 409h1v1h-1zM309 409h1v1h-1zM309 410h1v1h-1zM309 411h1v1h-1zM309 412h1v1h-1zM310 410h1v1h-1zM310 411h1v1h-1zM311 411h1v1h-1zM311 412h1v1h-1zM312 411h1v1h-1zM312 412h1v1h-1zM313 412h1v1h-1zM313 413h1v1h-1zM314 413h1v1h-1zM314 414h1v1h-1zM314 415h1v1h-1zM315 413h1v1h-1zM315 414h1v1h-1zM315 415h1v1h-1zM316 413h1v1h-1zM316 414h1v1h-1zM317 412h1v1h-1zM317 413h1v1h-1zM318 412h1v1h-1zM318 413h1v1h-1zM318 414h1v1h-1zM319 412h1v1h-1zM319 413h1v1h-1zM320 412h1v1h-1zM320 413h1v1h-1zM320 414h1v1h-1zM321 413h1v1h-1zM321 414h1v1h-1zM322 413h1v1h-1zM322 414h1v1h-1zM322 415h1v1h-1zM323 414h1v1h-1zM323 415h1v1h-1zM324 413h1v1h-1zM324 415h1v1h-1zM325 415h1v1h-1zM325 416h1v1h-1zM326 412h1v1h-1zM326 415h1v1h-1zM326 416h1v1h-1zM327 413h1v1h-1zM327 415h1v1h-1zM327 416h1v1h-1zM328 415h1v1h-1zM328 416h1v1h-1zM329 415h1v1h-1zM329 416h1v1h-1zM330 415h1v1h-1zM330 416h1v1h-1zM331 416h1v1h-1zM331 417h1v1h-1zM332 414h1v1h-1zM332 417h1v1h-1zM333 415h1v1h-1zM333 416h1v1h-1zM333 417h1v1h-1zM334 413h1v1h-1zM334 414h1v1h-1zM334 415h1v1h-1zM335 414h1v1h-1zM335 415h1v1h-1zM336 415h1v1h-1zM336 416h1v1h-1zM336 417h1v1h-1zM337 416h1v1h-1zM337 417h1v1h-1zM337 418h1v1h-1zM338 416h1v1h-1zM338 417h1v1h-1zM338 418h1v1h-1zM339 417h1v1h-1zM339 418h1v1h-1zM340 417h1v1h-1zM340 418h1v1h-1zM340 419h1v1h-1zM340 420h1v1h-1zM341 417h1v1h-1zM341 418h1v1h-1zM341 419h1v1h-1zM342 415h1v1h-1zM342 416h1v1h-1zM342 417h1v1h-1zM343 414h1v1h-1zM343 415h1v1h-1zM343 416h1v1h-1zM344 413h1v1h-1zM344 414h1v1h-1zM345 414h1v1h-1zM345 415h1v1h-1zM346 415h1v1h-1zM346 416h1v1h-1zM347 415h1v1h-1zM347 416h1v1h-1zM347 417h1v1h-1zM348 414h1v1h-1zM348 415h1v1h-1zM348 416h1v1h-1zM349 414h1v1h-1zM349 415h1v1h-1zM349 416h1v1h-1zM350 413h1v1h-1zM350 414h1v1h-1zM351 411h1v1h-1zM351 412h1v1h-1zM351 413h1v1h-1zM352 411h1v1h-1zM352 412h1v1h-1zM353 411h1v1h-1zM353 412h1v1h-1zM354 411h1v1h-1zM354 412h1v1h-1zM354 413h1v1h-1zM355 412h1v1h-1zM355 413h1v1h-1zM356 412h1v1h-1zM357 411h1v1h-1zM357 412h1v1h-1zM358 411h1v1h-1zM358 412h1v1h-1zM359 411h1v1h-1zM359 412h1v1h-1zM360 412h1v1h-1zM360 413h1v1h-1zM361 412h1v1h-1zM361 413h1v1h-1zM362 413h1v1h-1zM362 414h1v1h-1zM363 413h1v1h-1zM363 414h1v1h-1zM363 415h1v1h-1zM363 416h1v1h-1zM364 413h1v1h-1zM364 414h1v1h-1zM365 412h1v1h-1zM365 413h1v1h-1zM365 414h1v1h-1zM366 412h1v1h-1zM366 413h1v1h-1zM367 412h1v1h-1zM367 413h1v1h-1zM368 412h1v1h-1zM368 413h1v1h-1zM369 412h1v1h-1zM369 413h1v1h-1zM369 414h1v1h-1zM370 413h1v1h-1zM370 414h1v1h-1zM371 411h1v1h-1zM371 412h1v1h-1zM371 413h1v1h-1zM371 414h1v1h-1zM372 410h1v1h-1zM372 411h1v1h-1zM372 412h1v1h-1zM373 409h1v1h-1zM373 410h1v1h-1zM373 411h1v1h-1zM374 408h1v1h-1zM374 409h1v1h-1zM375 406h1v1h-1zM375 407h1v1h-1zM375 408h1v1h-1zM376 395h1v1h-1zM376 397h1v1h-1zM376 399h1v1h-1zM376 400h1v1h-1zM376 402h1v1h-1zM376 404h1v1h-1zM376 405h1v1h-1zM376 406h1v1h-1zM377 392h1v1h-1zM377 393h1v1h-1zM377 394h1v1h-1zM377 395h1v1h-1zM377 396h1v1h-1zM378 395h1v1h-1zM378 396h1v1h-1zM378 397h1v1h-1zM378 398h1v1h-1zM378 399h1v1h-1zM379 399h1v1h-1zM379 401h1v1h-1zM379 402h1v1h-1zM380 403h1v1h-1zM380 404h1v1h-1zM380 405h1v1h-1zM380 406h1v1h-1zM381 405h1v1h-1zM381 406h1v1h-1zM381 407h1v1h-1zM381 408h1v1h-1zM381 409h1v1h-1zM381 411h1v1h-1zM382 411h1v1h-1zM382 412h1v1h-1zM382 413h1v1h-1zM383 410h1v1h-1zM383 413h1v1h-1zM383 414h1v1h-1zM383 415h1v1h-1zM384 415h1v1h-1zM384 416h1v1h-1zM385 415h1v1h-1zM385 416h1v1h-1zM385 418h1v1h-1zM386 411h1v1h-1zM386 414h1v1h-1zM386 415h1v1h-1zM387 414h1v1h-1zM387 415h1v1h-1zM388 415h1v1h-1zM388 416h1v1h-1zM388 417h1v1h-1zM389 414h1v1h-1zM389 415h1v1h-1zM389 416h1v1h-1zM389 417h1v1h-1zM390 410h1v1h-1zM390 411h1v1h-1zM390 412h1v1h-1zM390 413h1v1h-1zM390 415h1v1h-1zM390 416h1v1h-1zM391 404h1v1h-1zM391 405h1v1h-1zM391 406h1v1h-1zM391 407h1v1h-1zM391 408h1v1h-1zM391 409h1v1h-1zM392 407h1v1h-1zM392 408h1v1h-1zM392 409h1v1h-1zM392 410h1v1h-1zM392 411h1v1h-1zM392 412h1v1h-1zM393 414h1v1h-1zM393 415h1v1h-1zM394 415h1v1h-1zM394 416h1v1h-1zM394 417h1v1h-1zM395 415h1v1h-1zM395 416h1v1h-1zM395 417h1v1h-1zM396 416h1v1h-1zM396 417h1v1h-1zM396 418h1v1h-1zM397 416h1v1h-1zM397 417h1v1h-1zM397 418h1v1h-1zM398 416h1v1h-1zM398 417h1v1h-1zM398 418h1v1h-1zM399 411h1v1h-1zM399 414h1v1h-1zM399 415h1v1h-1zM399 416h1v1h-1zM400 415h1v1h-1zM400 416h1v1h-1zM400 417h1v1h-1zM400 418h1v1h-1zM401 417h1v1h-1zM401 418h1v1h-1zM402 418h1v1h-1zM402 419h1v1h-1zM403 418h1v1h-1zM403 419h1v1h-1zM403 420h1v1h-1zM404 418h1v1h-1zM404 419h1v1h-1zM404 420h1v1h-1zM405 418h1v1h-1zM405 419h1v1h-1zM405 420h1v1h-1zM406 416h1v1h-1zM406 418h1v1h-1zM406 419h1v1h-1zM407 418h1v1h-1zM407 419h1v1h-1zM408 409h1v1h-1zM408 410h1v1h-1zM408 412h1v1h-1zM408 413h1v1h-1zM408 414h1v1h-1zM408 415h1v1h-1zM408 416h1v1h-1zM409 403h1v1h-1zM409 404h1v1h-1zM409 405h1v1h-1zM409 407h1v1h-1zM409 408h1v1h-1zM410 406h1v1h-1zM410 408h1v1h-1zM410 409h1v1h-1zM411 410h1v1h-1zM411 411h1v1h-1zM411 412h1v1h-1zM411 413h1v1h-1zM412 415h1v1h-1zM412 416h1v1h-1zM412 417h1v1h-1zM412 418h1v1h-1zM413 418h1v1h-1zM413 419h1v1h-1zM413 420h1v1h-1zM413 421h1v1h-1zM414 420h1v1h-1zM414 421h1v1h-1zM415 420h1v1h-1zM415 421h1v1h-1zM415 422h1v1h-1zM415 424h1v1h-1zM416 419h1v1h-1zM416 420h1v1h-1zM416 421h1v1h-1zM416 422h1v1h-1zM417 421h1v1h-1zM417 422h1v1h-1zM418 421h1v1h-1zM419 419h1v1h-1zM419 420h1v1h-1zM419 421h1v1h-1zM420 417h1v1h-1zM420 418h1v1h-1zM420 419h1v1h-1zM420 420h1v1h-1zM421 412h1v1h-1zM421 413h1v1h-1zM421 414h1v1h-1zM421 415h1v1h-1zM421 417h1v1h-1zM422 409h1v1h-1zM422 410h1v1h-1zM422 411h1v1h-1zM422 412h1v1h-1zM423 407h1v1h-1zM423 408h1v1h-1zM423 409h1v1h-1zM424 404h1v1h-1zM424 405h1v1h-1zM424 406h1v1h-1zM424 407h1v1h-1zM425 403h1v1h-1zM425 404h1v1h-1zM426 401h1v1h-1zM426 402h1v1h-1zM426 403h1v1h-1zM427 401h1v1h-1zM427 402h1v1h-1zM427 403h1v1h-1zM427 404h1v1h-1zM428 404h1v1h-1zM428 405h1v1h-1zM428 406h1v1h-1zM429 406h1v1h-1zM429 407h1v1h-1zM429 408h1v1h-1zM430 408h1v1h-1zM430 409h1v1h-1zM430 410h1v1h-1zM430 411h1v1h-1zM431 410h1v1h-1zM431 411h1v1h-1zM431 412h1v1h-1zM432 412h1v1h-1zM432 413h1v1h-1zM432 414h1v1h-1zM433 412h1v1h-1zM433 413h1v1h-1zM433 414h1v1h-1zM434 413h1v1h-1zM434 414h1v1h-1zM434 415h1v1h-1zM435 413h1v1h-1zM435 414h1v1h-1zM435 415h1v1h-1zM435 416h1v1h-1zM436 414h1v1h-1zM436 415h1v1h-1zM437 415h1v1h-1zM438 414h1v1h-1zM438 415h1v1h-1zM438 416h1v1h-1zM439 415h1v1h-1zM439 416h1v1h-1zM440 415h1v1h-1zM440 416h1v1h-1zM441 412h1v1h-1zM441 415h1v1h-1zM441 416h1v1h-1zM442 415h1v1h-1zM442 416h1v1h-1zM443 413h1v1h-1zM443 414h1v1h-1zM443 415h1v1h-1zM444 411h1v1h-1zM444 412h1v1h-1zM444 413h1v1h-1zM444 414h1v1h-1zM445 407h1v1h-1zM445 411h1v1h-1zM445 412h1v1h-1zM446 411h1v1h-1zM446 412h1v1h-1zM447 411h1v1h-1zM447 412h1v1h-1zM447 413h1v1h-1zM448 412h1v1h-1zM448 413h1v1h-1zM449 412h1v1h-1zM449 413h1v1h-1zM449 414h1v1h-1zM450 412h1v1h-1zM450 413h1v1h-1zM451 412h1v1h-1zM451 413h1v1h-1zM452 412h1v1h-1zM452 413h1v1h-1zM453 412h1v1h-1zM453 413h1v1h-1zM454 412h1v1h-1zM454 413h1v1h-1zM455 411h1v1h-1zM456 408h1v1h-1zM457 408h1v1h-1zM457 409h1v1h-1zM458 408h1v1h-1zM458 409h1v1h-1zM459 408h1v1h-1zM459 409h1v1h-1zM460 408h1v1h-1zM460 409h1v1h-1zM460 410h1v1h-1zM461 409h1v1h-1zM461 410h1v1h-1zM461 411h1v1h-1zM462 410h1v1h-1zM462 411h1v1h-1zM462 412h1v1h-1zM463 411h1v1h-1zM463 412h1v1h-1zM463 413h1v1h-1zM464 412h1v1h-1zM464 413h1v1h-1zM465 412h1v1h-1zM465 413h1v1h-1zM466 413h1v1h-1zM466 414h1v1h-1zM467 413h1v1h-1zM467 414h1v1h-1zM467 415h1v1h-1zM468 413h1v1h-1zM468 414h1v1h-1zM468 415h1v1h-1zM468 416h1v1h-1zM469 414h1v1h-1zM469 415h1v1h-1zM469 416h1v1h-1zM470 416h1v1h-1zM470 417h1v1h-1zM471 416h1v1h-1zM471 417h1v1h-1zM471 418h1v1h-1zM472 414h1v1h-1zM472 417h1v1h-1zM472 418h1v1h-1zM472 419h1v1h-1zM473 418h1v1h-1zM473 419h1v1h-1zM473 420h1v1h-1zM473 421h1v1h-1zM474 419h1v1h-1zM474 420h1v1h-1zM475 420h1v1h-1zM475 421h1v1h-1zM476 421h1v1h-1zM476 422h1v1h-1zM477 421h1v1h-1zM477 422h1v1h-1zM477 423h1v1h-1zM478 420h1v1h-1zM478 422h1v1h-1zM478 423h1v1h-1zM478 424h1v1h-1zM479 423h1v1h-1zM479 424h1v1h-1zM479 425h1v1h-1zM480 422h1v1h-1zM480 423h1v1h-1zM480 424h1v1h-1zM481 420h1v1h-1zM481 421h1v1h-1zM481 422h1v1h-1zM482 416h1v1h-1zM482 417h1v1h-1zM482 418h1v1h-1zM482 419h1v1h-1zM482 420h1v1h-1zM483 409h1v1h-1zM483 412h1v1h-1zM483 413h1v1h-1zM483 414h1v1h-1zM483 416h1v1h-1zM484 406h1v1h-1zM484 407h1v1h-1zM484 408h1v1h-1zM484 409h1v1h-1zM485 410h1v1h-1zM485 411h1v1h-1zM485 412h1v1h-1zM485 413h1v1h-1zM486 413h1v1h-1zM486 414h1v1h-1zM486 415h1v1h-1zM487 412h1v1h-1zM487 414h1v1h-1zM487 415h1v1h-1zM488 414h1v1h-1zM488 415h1v1h-1zM488 416h1v1h-1zM489 411h1v1h-1zM489 412h1v1h-1zM489 413h1v1h-1zM490 408h1v1h-1zM490 409h1v1h-1zM490 410h1v1h-1zM490 411h1v1h-1zM491 408h1v1h-1zM491 409h1v1h-1zM491 410h1v1h-1zM491 411h1v1h-1zM492 411h1v1h-1zM492 412h1v1h-1zM492 413h1v1h-1zM493 413h1v1h-1zM493 414h1v1h-1zM493 415h1v1h-1zM494 414h1v1h-1zM494 415h1v1h-1zM495 414h1v1h-1zM495 415h1v1h-1zM495 416h1v1h-1zM496 414h1v1h-1zM496 415h1v1h-1zM496 416h1v1h-1zM497 407h1v1h-1zM497 408h1v1h-1zM497 409h1v1h-1zM497 411h1v1h-1zM497 412h1v1h-1zM497 413h1v1h-1zM498 405h1v1h-1zM498 406h1v1h-1zM498 407h1v1h-1zM499 407h1v1h-1zM499 408h1v1h-1zM500 408h1v1h-1zM500 409h1v1h-1zM500 410h1v1h-1zM501 410h1v1h-1zM501 411h1v1h-1zM502 411h1v1h-1zM502 412h1v1h-1zM502 413h1v1h-1zM503 413h1v1h-1zM503 414h1v1h-1zM503 415h1v1h-1zM504 414h1v1h-1zM504 415h1v1h-1zM504 416h1v1h-1zM505 414h1v1h-1zM505 415h1v1h-1zM506 411h1v1h-1zM506 415h1v1h-1zM506 416h1v1h-1zM507 415h1v1h-1zM507 416h1v1h-1zM508 415h1v1h-1zM508 416h1v1h-1zM508 417h1v1h-1zM509 415h1v1h-1zM509 416h1v1h-1zM509 417h1v1h-1zM510 415h1v1h-1zM510 416h1v1h-1zM511 416h1v1h-1zM511 417h1v1h-1zM512 416h1v1h-1zM512 417h1v1h-1zM512 418h1v1h-1zM513 416h1v1h-1zM513 417h1v1h-1zM513 418h1v1h-1zM514 417h1v1h-1zM514 418h1v1h-1zM514 419h1v1h-1zM515 417h1v1h-1zM515 418h1v1h-1zM515 419h1v1h-1zM516 418h1v1h-1zM516 419h1v1h-1zM517 416h1v1h-1zM517 417h1v1h-1zM517 418h1v1h-1zM517 419h1v1h-1zM518 415h1v1h-1zM518 416h1v1h-1zM518 417h1v1h-1zM519 413h1v1h-1zM519 414h1v1h-1zM519 415h1v1h-1zM520 406h1v1h-1zM520 407h1v1h-1zM520 408h1v1h-1zM520 409h1v1h-1zM520 410h1v1h-1zM520 412h1v1h-1zM521 401h1v1h-1zM521 402h1v1h-1zM521 404h1v1h-1zM521 406h1v1h-1zM522 400h1v1h-1zM522 401h1v1h-1zM523 398h1v1h-1zM523 399h1v1h-1zM523 400h1v1h-1zM524 397h1v1h-1zM524 398h1v1h-1zM524 399h1v1h-1zM525 394h1v1h-1zM525 396h1v1h-1zM525 397h1v1h-1zM525 398h1v1h-1zM525 399h1v1h-1zM526 399h1v1h-1zM526 400h1v1h-1zM527 396h1v1h-1zM527 400h1v1h-1zM527 401h1v1h-1zM528 400h1v1h-1zM528 401h1v1h-1zM528 402h1v1h-1zM528 403h1v1h-1zM529 402h1v1h-1zM529 403h1v1h-1zM529 404h1v1h-1zM529 405h1v1h-1zM530 400h1v1h-1zM530 401h1v1h-1zM530 402h1v1h-1zM530 403h1v1h-1zM530 404h1v1h-1zM530 405h1v1h-1zM531 398h1v1h-1zM531 399h1v1h-1zM531 400h1v1h-1zM531 401h1v1h-1zM532 399h1v1h-1zM532 400h1v1h-1zM532 401h1v1h-1zM533 401h1v1h-1zM533 402h1v1h-1zM533 403h1v1h-1zM534 402h1v1h-1zM534 403h1v1h-1zM534 404h1v1h-1zM535 404h1v1h-1zM535 405h1v1h-1zM536 405h1v1h-1zM536 406h1v1h-1zM537 405h1v1h-1zM537 406h1v1h-1zM537 407h1v1h-1zM538 406h1v1h-1zM538 407h1v1h-1zM539 406h1v1h-1zM539 407h1v1h-1zM540 405h1v1h-1zM540 406h1v1h-1zM540 408h1v1h-1zM541 405h1v1h-1zM541 406h1v1h-1zM542 405h1v1h-1zM542 406h1v1h-1zM543 404h1v1h-1zM543 405h1v1h-1zM543 406h1v1h-1zM544 404h1v1h-1zM544 405h1v1h-1zM545 404h1v1h-1zM545 405h1v1h-1zM546 403h1v1h-1zM546 404h1v1h-1zM546 405h1v1h-1zM547 400h1v1h-1zM547 404h1v1h-1zM547 405h1v1h-1zM548 404h1v1h-1zM548 405h1v1h-1zM548 406h1v1h-1zM549 406h1v1h-1zM549 407h1v1h-1zM549 408h1v1h-1zM550 407h1v1h-1zM550 408h1v1h-1zM551 406h1v1h-1zM551 407h1v1h-1zM552 405h1v1h-1zM552 406h1v1h-1zM553 403h1v1h-1zM553 404h1v1h-1zM553 405h1v1h-1zM554 402h1v1h-1zM554 403h1v1h-1zM555 400h1v1h-1zM555 401h1v1h-1zM555 402h1v1h-1zM556 399h1v1h-1zM556 400h1v1h-1zM556 401h1v1h-1zM557 400h1v1h-1zM557 401h1v1h-1zM558 400h1v1h-1zM558 401h1v1h-1zM558 402h1v1h-1zM559 400h1v1h-1zM559 401h1v1h-1zM560 399h1v1h-1zM560 400h1v1h-1zM560 401h1v1h-1zM561 401h1v1h-1zM562 401h1v1h-1zM562 402h1v1h-1zM563 401h1v1h-1zM563 402h1v1h-1zM563 403h1v1h-1zM564 385h1v1h-1zM564 390h1v1h-1zM564 392h1v1h-1zM564 394h1v1h-1zM564 396h1v1h-1zM564 398h1v1h-1zM564 401h1v1h-1zM564 402h1v1h-1zM565 383h1v1h-1zM565 385h1v1h-1zM565 386h1v1h-1zM565 387h1v1h-1zM566 380h1v1h-1zM566 381h1v1h-1zM566 382h1v1h-1zM567 372h1v1h-1zM567 374h1v1h-1zM567 376h1v1h-1zM567 377h1v1h-1zM567 378h1v1h-1zM567 379h1v1h-1zM568 356h1v1h-1zM568 358h1v1h-1zM568 361h1v1h-1zM568 363h1v1h-1zM568 365h1v1h-1zM568 367h1v1h-1zM568 369h1v1h-1zM569 347h1v1h-1zM569 348h1v1h-1zM569 350h1v1h-1zM569 351h1v1h-1zM569 352h1v1h-1zM569 354h1v1h-1zM570 352h1v1h-1zM570 355h1v1h-1zM570 356h1v1h-1zM570 357h1v1h-1zM570 359h1v1h-1zM571 359h1v1h-1zM571 361h1v1h-1zM571 362h1v1h-1zM571 363h1v1h-1zM571 364h1v1h-1zM571 367h1v1h-1zM571 368h1v1h-1zM571 370h1v1h-1zM572 371h1v1h-1zM572 373h1v1h-1zM572 374h1v1h-1zM572 375h1v1h-1zM572 377h1v1h-1zM572 380h1v1h-1zM572 381h1v1h-1zM573 381h1v1h-1zM573 382h1v1h-1zM573 383h1v1h-1zM573 384h1v1h-1zM574 385h1v1h-1zM574 386h1v1h-1zM574 387h1v1h-1zM575 389h1v1h-1zM575 390h1v1h-1zM575 391h1v1h-1zM576 392h1v1h-1zM576 393h1v1h-1zM576 394h1v1h-1zM576 395h1v1h-1zM576 396h1v1h-1zM577 396h1v1h-1zM577 397h1v1h-1zM577 398h1v1h-1zM577 399h1v1h-1zM578 399h1v1h-1zM578 400h1v1h-1zM578 401h1v1h-1zM579 400h1v1h-1zM579 401h1v1h-1zM579 402h1v1h-1zM579 403h1v1h-1zM580 402h1v1h-1zM580 403h1v1h-1zM580 404h1v1h-1zM581 403h1v1h-1zM581 404h1v1h-1zM582 403h1v1h-1zM582 404h1v1h-1zM583 404h1v1h-1zM583 405h1v1h-1zM583 406h1v1h-1zM584 406h1v1h-1zM584 407h1v1h-1zM584 408h1v1h-1zM585 408h1v1h-1zM585 409h1v1h-1zM585 410h1v1h-1zM586 401h1v1h-1zM586 403h1v1h-1zM586 404h1v1h-1zM586 406h1v1h-1zM586 407h1v1h-1zM587 400h1v1h-1zM587 401h1v1h-1zM587 402h1v1h-1zM587 403h1v1h-1zM587 404h1v1h-1zM588 404h1v1h-1zM588 405h1v1h-1zM588 406h1v1h-1zM588 407h1v1h-1zM589 408h1v1h-1zM590 408h1v1h-1zM590 409h1v1h-1zM591 408h1v1h-1zM591 409h1v1h-1zM591 410h1v1h-1zM592 407h1v1h-1zM592 408h1v1h-1zM593 407h1v1h-1zM593 408h1v1h-1zM594 407h1v1h-1zM594 408h1v1h-1zM595 407h1v1h-1zM595 408h1v1h-1zM595 409h1v1h-1zM596 408h1v1h-1zM596 409h1v1h-1zM596 410h1v1h-1zM597 409h1v1h-1zM597 410h1v1h-1zM597 411h1v1h-1zM598 410h1v1h-1zM598 411h1v1h-1zM598 412h1v1h-1zM599 411h1v1h-1zM599 412h1v1h-1zM599 413h1v1h-1zM600 412h1v1h-1zM600 413h1v1h-1zM601 412h1v1h-1zM601 413h1v1h-1zM602 412h1v1h-1zM602 413h1v1h-1zM602 414h1v1h-1zM603 411h1v1h-1zM603 412h1v1h-1zM603 413h1v1h-1zM604 410h1v1h-1zM604 411h1v1h-1zM604 413h1v1h-1zM605 403h1v1h-1zM605 404h1v1h-1zM605 405h1v1h-1zM605 406h1v1h-1zM605 408h1v1h-1zM605 409h1v1h-1zM605 411h1v1h-1zM606 398h1v1h-1zM606 399h1v1h-1zM606 400h1v1h-1zM606 401h1v1h-1zM606 402h1v1h-1zM607 393h1v1h-1zM607 394h1v1h-1zM607 395h1v1h-1zM607 396h1v1h-1zM608 393h1v1h-1zM608 394h1v1h-1zM608 395h1v1h-1zM608 396h1v1h-1zM609 397h1v1h-1zM609 398h1v1h-1zM609 399h1v1h-1zM609 401h1v1h-1zM610 401h1v1h-1zM610 402h1v1h-1zM610 403h1v1h-1zM610 404h1v1h-1zM610 406h1v1h-1zM611 406h1v1h-1zM611 408h1v1h-1zM611 409h1v1h-1zM611 410h1v1h-1zM612 409h1v1h-1zM612 410h1v1h-1zM612 411h1v1h-1zM613 410h1v1h-1zM613 411h1v1h-1zM614 410h1v1h-1zM614 411h1v1h-1zM614 412h1v1h-1zM615 410h1v1h-1zM615 411h1v1h-1zM615 412h1v1h-1zM616 410h1v1h-1zM616 411h1v1h-1zM617 410h1v1h-1zM617 411h1v1h-1zM618 410h1v1h-1zM618 411h1v1h-1zM618 412h1v1h-1zM619 410h1v1h-1zM619 411h1v1h-1zM620 408h1v1h-1zM620 410h1v1h-1zM620 411h1v1h-1zM621 411h1v1h-1zM621 412h1v1h-1zM622 411h1v1h-1zM622 412h1v1h-1zM623 412h1v1h-1zM623 413h1v1h-1zM624 412h1v1h-1zM624 413h1v1h-1zM625 412h1v1h-1zM625 413h1v1h-1zM626 412h1v1h-1zM627 411h1v1h-1zM627 412h1v1h-1zM627 413h1v1h-1zM628 407h1v1h-1zM628 411h1v1h-1zM628 412h1v1h-1zM629 411h1v1h-1zM629 412h1v1h-1zM629 413h1v1h-1zM629 414h1v1h-1zM630 412h1v1h-1zM630 413h1v1h-1zM631 413h1v1h-1zM631 414h1v1h-1zM632 413h1v1h-1zM632 414h1v1h-1zM633 409h1v1h-1zM633 414h1v1h-1zM634 413h1v1h-1zM634 414h1v1h-1zM634 415h1v1h-1zM635 414h1v1h-1zM635 415h1v1h-1zM636 414h1v1h-1zM636 415h1v1h-1z" fill="#777777"/>
<rect x="62" y="161" width="1" height="1" fill="#0000ff"/>
<rect x="62" y="165" width="1" height="1" fill="#0000ff"/>
<rect x="62" y="168" width="1" height="1" fill="#0000ff"/>
<rect x="62" y="176" width="1" height="1" fill="#0000ff"/>
<rect x="62" y="180" width="1" height="1" fill="#0000ff"/>
<rect x="67" y="181" width="1" height="1" fill="#0000ff"/>
<rect x="80" y="183" width="1" height="1" fill="#0000ff"/>
<rect x="104" y="170" width="1" height="1" fill="#0000ff"/>
<rect x="106" y="170" width="1" height="1" fill="#0000ff"/>
<rect x="111" y="168" width="1" height="1" fill="#0000ff"/>
<rect x="119" y="170" width="1" height="1" fill="#0000ff"/>
<rect x="151" y="171" width="1" height="1" fill="#0000ff"/>
<rect x="151" y="174" width="1" height="1" fill="#0000ff"/>
<rect x="140" y="176" width="1" height="1" fill="#0000ff"/>
<rect x="215" y="108" width="1" height="1" fill="#0000ff"/>
<rect x="215" y="109" width="1" height="1" fill="#0000ff"/>
<rect x="215" y="112" width="1" height="1" fill="#0000ff"/>
<rect x="216" y="112" width="1" height="1" fill="#0000ff"/>
<rect x="216" y="119" width="1" height="1" fill="#0000ff"/>
<rect x="215" y="122" width="1" height="1" fill="#0000ff"/>
<rect x="216" y="126" width="1" height="1" fill="#0000ff"/>
<rect x="216" y="131" width="1" height="1" fill="#0000ff"/>
<rect x="216" y="134" width="1" height="1" fill="#0000ff"/>
<rect x="218" y="139" width="1" height="1" fill="#0000ff"/>
<rect x="215" y="144" width="1" height="1" fill="#0000ff"/>
<rect x="215" y="159" width="1" height="1" fill="#0000ff"/>
<rect x="215" y="161" width="1" height="1" fill="#0000ff"/>
<rect x="215" y="163" width="1" height="1" fill="#0000ff"/>
<rect x="334" y="185" width="1" height="1" fill="#0000ff"/>
<rect x="587" y="184" width="1" height="1" fill="#0000ff"/>
<rect x="587" y="186" width="1" height="1" fill="#0000ff"/>
<rect x="497" y="180" width="1" height="1" fill="#0000ff"/>
<rect x="62" y="369" width="1" height="1" fill="#777777"/>
<rect x="62" y="374" width="1" height="1" fill="#777777"/>
<rect x="62" y="378" width="1" height="1" fill="#777777"/>
<rect x="62" y="391" width="1" height="1" fill="#777777"/>
<rect x="62" y="398" width="1" height="1" fill="#777777"/>
<rect x="67" y="401" width="1" height="1" fill="#777777"/>
<rect x="75" y="400" width="1" height="1" fill="#777777"/>
<rect x="104" y="382" width="1" height="1" fill="#777777"/>
<rect x="106" y="384" width="1" height="1" fill="#777777"/>
<rect x="215" y="287" width="1" height="1" fill="#777777"/>
<rect x="215" y="293" width="1" height="1" fill="#777777"/>
<rect x="215" y="303" width="1" height="1" fill="#777777"/>
<rect x="215" y="306" width="1" height="1" fill="#777777"/>
<rect x="215" y="314" width="1" height="1" fill="#777777"/>
<rect x="215" y="322" width="1" height="1" fill="#777777"/>
<rect x="215" y="327" width="1" height="1" fill="#777777"/>
<rect x="215" y="340" width="1" height="1" fill="#777777"/>
<rect x="214" y="370" width="1" height="1" fill="#777777"/>
<rect x="214" y="373" width="1" height="1" fill="#777777"/>
<rect x="334" y="408" width="1" height="1" fill="#777777"/>
<rect x="497" y="398" width="1" height="1" fill="#777777"/>
<rect x="497" y="401" width="1" height="1" fill="#777777"/>
</svg></body></html>
